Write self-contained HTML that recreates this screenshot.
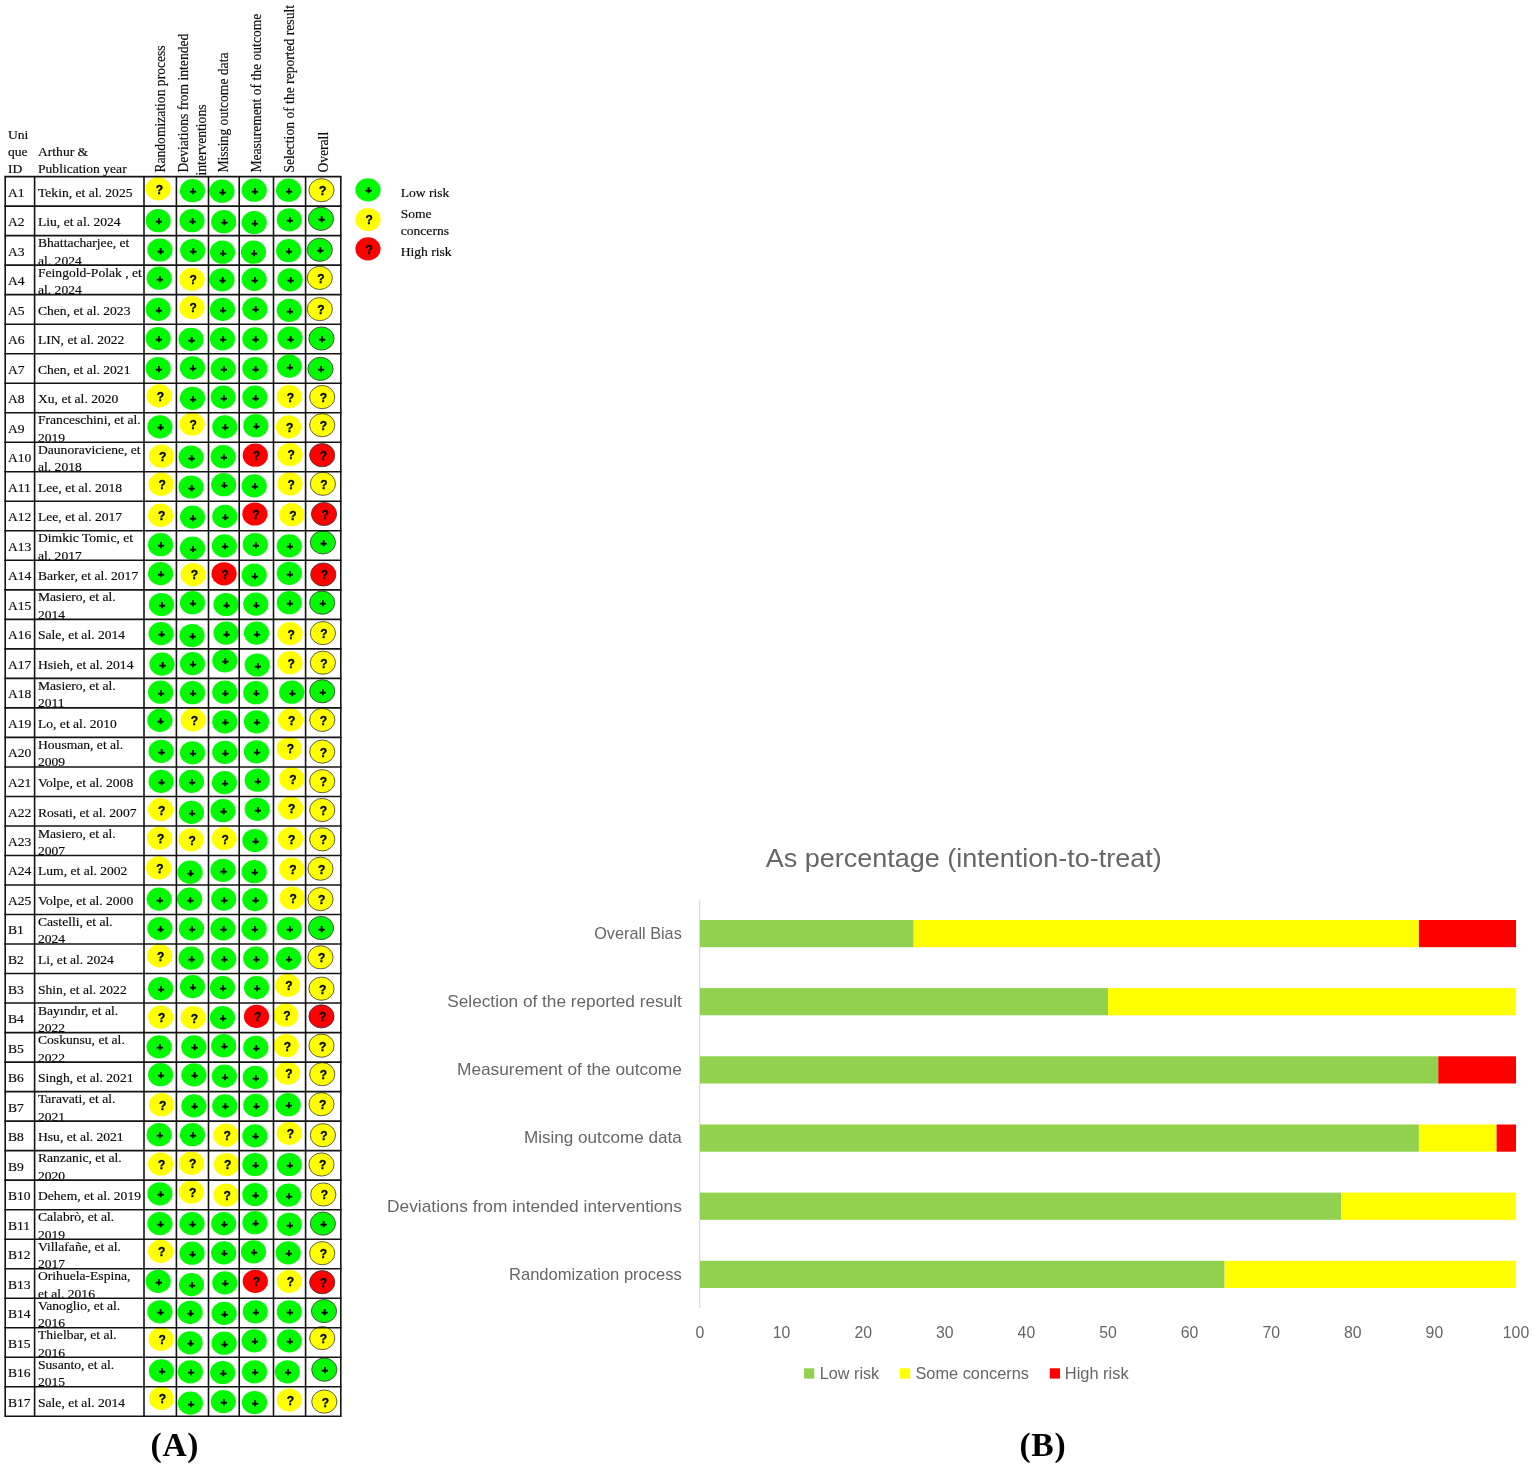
<!DOCTYPE html>
<html lang="en"><head><meta charset="utf-8"><title>Risk of bias</title>
<style>html,body{margin:0;padding:0;background:#fff}svg{display:block}</style></head>
<body>
<svg width="1535" height="1470" viewBox="0 0 1535 1470">
<rect width="1535" height="1470" fill="#fff"/>
<clipPath id="c40"><rect x="31.7" y="1357.3" width="98.6" height="29.1"/></clipPath>
<clipPath id="c39"><rect x="31.7" y="1327.8" width="98.6" height="29.1"/></clipPath>
<clipPath id="c38"><rect x="31.7" y="1298.2" width="98.6" height="29.1"/></clipPath>
<clipPath id="c37"><rect x="31.7" y="1268.7" width="98.6" height="29.1"/></clipPath>
<clipPath id="c36"><rect x="31.7" y="1239.2" width="98.6" height="29.1"/></clipPath>
<clipPath id="c35"><rect x="31.7" y="1209.7" width="98.6" height="29.1"/></clipPath>
<clipPath id="c33"><rect x="31.7" y="1150.7" width="98.6" height="29.1"/></clipPath>
<clipPath id="c31"><rect x="31.7" y="1091.6" width="98.6" height="29.1"/></clipPath>
<clipPath id="c29"><rect x="31.7" y="1032.6" width="98.6" height="29.1"/></clipPath>
<clipPath id="c28"><rect x="31.7" y="1003.1" width="98.6" height="29.1"/></clipPath>
<clipPath id="c25"><rect x="31.7" y="914.5" width="98.6" height="29.1"/></clipPath>
<clipPath id="c22"><rect x="31.7" y="826.0" width="98.6" height="29.1"/></clipPath>
<clipPath id="c19"><rect x="31.7" y="737.4" width="98.6" height="29.1"/></clipPath>
<clipPath id="c17"><rect x="31.7" y="678.4" width="98.6" height="29.1"/></clipPath>
<clipPath id="c14"><rect x="31.7" y="589.8" width="98.6" height="29.1"/></clipPath>
<clipPath id="c12"><rect x="31.7" y="530.8" width="98.6" height="29.1"/></clipPath>
<clipPath id="c9"><rect x="31.7" y="442.2" width="98.6" height="29.1"/></clipPath>
<clipPath id="c8"><rect x="31.7" y="412.7" width="98.6" height="29.1"/></clipPath>
<clipPath id="c3"><rect x="31.7" y="265.1" width="98.6" height="29.1"/></clipPath>
<clipPath id="c2"><rect x="31.7" y="235.6" width="98.6" height="29.1"/></clipPath>
<g font-family="Liberation Serif, serif" fill="#0a0a0a" stroke="#0a0a0a" stroke-width="0.16" font-size="12.3" transform="scale(1.1057,1)">
<text x="7.24" y="138.6">Uni</text><text x="7.24" y="155.8">que</text><text x="7.24" y="173.4">ID</text>
<text x="34.37" y="155.8">Arthur &amp;</text><text x="34.37" y="173.4">Publication year</text>
</g>
<g font-family="Liberation Serif, serif" fill="#0a0a0a" stroke="#0a0a0a" stroke-width="0.16" font-size="13.6">
<text transform="translate(164.8,172.6) rotate(-90)">Randomization process</text>
<text transform="translate(187.7,172.6) rotate(-90)">Deviations from intended</text>
<text transform="translate(205.7,175.5) rotate(-90)">interventions</text>
<text transform="translate(228.1,172.6) rotate(-90)">Missing outcome data</text>
<text transform="translate(261.4,172.6) rotate(-90)">Measurement of the outcome</text>
<text transform="translate(294.1,172.6) rotate(-90)">Selection of the reported result</text>
<text transform="translate(327.8,172.6) rotate(-90)">Overall</text>
</g>
<g font-family="Liberation Serif, serif" fill="#0a0a0a" stroke="#0a0a0a" stroke-width="0.16" font-size="12.3" transform="scale(1.1057,1)">
<text x="7.24" y="196.6">A1</text>
<text x="34.37" y="196.6">Tekin, et al. 2025</text>
<text x="7.24" y="226.1">A2</text>
<text x="34.37" y="226.1">Liu, et al. 2024</text>
<text x="7.24" y="255.6">A3</text>
<text x="34.37" y="247.3">Bhattacharjee, et</text>
<text x="34.37" y="264.6" clip-path="url(#c2)">al. 2024</text>
<text x="7.24" y="285.1">A4</text>
<text x="34.37" y="276.8">Feingold-Polak , et</text>
<text x="34.37" y="294.1" clip-path="url(#c3)">al. 2024</text>
<text x="7.24" y="314.7">A5</text>
<text x="34.37" y="314.7">Chen, et al. 2023</text>
<text x="7.24" y="344.2">A6</text>
<text x="34.37" y="344.2">LIN, et al. 2022</text>
<text x="7.24" y="373.7">A7</text>
<text x="34.37" y="373.7">Chen, et al. 2021</text>
<text x="7.24" y="403.2">A8</text>
<text x="34.37" y="403.2">Xu, et al. 2020</text>
<text x="7.24" y="432.7">A9</text>
<text x="34.37" y="424.4">Franceschini, et al.</text>
<text x="34.37" y="441.7" clip-path="url(#c8)">2019</text>
<text x="7.24" y="462.2">A10</text>
<text x="34.37" y="453.9">Daunoraviciene, et</text>
<text x="34.37" y="471.2" clip-path="url(#c9)">al. 2018</text>
<text x="7.24" y="491.8">A11</text>
<text x="34.37" y="491.8">Lee, et al. 2018</text>
<text x="7.24" y="521.3">A12</text>
<text x="34.37" y="521.3">Lee, et al. 2017</text>
<text x="7.24" y="550.8">A13</text>
<text x="34.37" y="542.5">Dimkic Tomic, et</text>
<text x="34.37" y="559.8" clip-path="url(#c12)">al. 2017</text>
<text x="7.24" y="580.3">A14</text>
<text x="34.37" y="580.3">Barker, et al. 2017</text>
<text x="7.24" y="609.8">A15</text>
<text x="34.37" y="601.5">Masiero, et al.</text>
<text x="34.37" y="618.8" clip-path="url(#c14)">2014</text>
<text x="7.24" y="639.4">A16</text>
<text x="34.37" y="639.4">Sale, et al. 2014</text>
<text x="7.24" y="668.9">A17</text>
<text x="34.37" y="668.9">Hsieh, et al. 2014</text>
<text x="7.24" y="698.4">A18</text>
<text x="34.37" y="690.1">Masiero, et al.</text>
<text x="34.37" y="707.4" clip-path="url(#c17)">2011</text>
<text x="7.24" y="727.9">A19</text>
<text x="34.37" y="727.9">Lo, et al. 2010</text>
<text x="7.24" y="757.4">A20</text>
<text x="34.37" y="749.1">Housman, et al.</text>
<text x="34.37" y="766.4" clip-path="url(#c19)">2009</text>
<text x="7.24" y="786.9">A21</text>
<text x="34.37" y="786.9">Volpe, et al. 2008</text>
<text x="7.24" y="816.5">A22</text>
<text x="34.37" y="816.5">Rosati, et al. 2007</text>
<text x="7.24" y="846.0">A23</text>
<text x="34.37" y="837.7">Masiero, et al.</text>
<text x="34.37" y="855.0" clip-path="url(#c22)">2007</text>
<text x="7.24" y="875.5">A24</text>
<text x="34.37" y="875.5">Lum, et al. 2002</text>
<text x="7.24" y="905.0">A25</text>
<text x="34.37" y="905.0">Volpe, et al. 2000</text>
<text x="7.24" y="934.5">B1</text>
<text x="34.37" y="926.2">Castelli, et al.</text>
<text x="34.37" y="943.5" clip-path="url(#c25)">2024</text>
<text x="7.24" y="964.0">B2</text>
<text x="34.37" y="964.0">Li, et al. 2024</text>
<text x="7.24" y="993.6">B3</text>
<text x="34.37" y="993.6">Shin, et al. 2022</text>
<text x="7.24" y="1023.1">B4</text>
<text x="34.37" y="1014.8">Bayındır, et al.</text>
<text x="34.37" y="1032.1" clip-path="url(#c28)">2022</text>
<text x="7.24" y="1052.6">B5</text>
<text x="34.37" y="1044.3">Coskunsu, et al.</text>
<text x="34.37" y="1061.6" clip-path="url(#c29)">2022</text>
<text x="7.24" y="1082.1">B6</text>
<text x="34.37" y="1082.1">Singh, et al. 2021</text>
<text x="7.24" y="1111.6">B7</text>
<text x="34.37" y="1103.3">Taravati, et al.</text>
<text x="34.37" y="1120.6" clip-path="url(#c31)">2021</text>
<text x="7.24" y="1141.1">B8</text>
<text x="34.37" y="1141.1">Hsu, et al. 2021</text>
<text x="7.24" y="1170.7">B9</text>
<text x="34.37" y="1162.4">Ranzanic, et al.</text>
<text x="34.37" y="1179.7" clip-path="url(#c33)">2020</text>
<text x="7.24" y="1200.2">B10</text>
<text x="34.37" y="1200.2">Dehem, et al. 2019</text>
<text x="7.24" y="1229.7">B11</text>
<text x="34.37" y="1221.4">Calabrò, et al.</text>
<text x="34.37" y="1238.7" clip-path="url(#c35)">2019</text>
<text x="7.24" y="1259.2">B12</text>
<text x="34.37" y="1250.9">Villafañe, et al.</text>
<text x="34.37" y="1268.2" clip-path="url(#c36)">2017</text>
<text x="7.24" y="1288.7">B13</text>
<text x="34.37" y="1280.4">Orihuela-Espina,</text>
<text x="34.37" y="1297.7" clip-path="url(#c37)">et al. 2016</text>
<text x="7.24" y="1318.2">B14</text>
<text x="34.37" y="1309.9">Vanoglio, et al.</text>
<text x="34.37" y="1327.2" clip-path="url(#c38)">2016</text>
<text x="7.24" y="1347.8">B15</text>
<text x="34.37" y="1339.5">Thielbar, et al.</text>
<text x="34.37" y="1356.8" clip-path="url(#c39)">2016</text>
<text x="7.24" y="1377.3">B16</text>
<text x="34.37" y="1369.0">Susanto, et al.</text>
<text x="34.37" y="1386.3" clip-path="url(#c40)">2015</text>
<text x="7.24" y="1406.8">B17</text>
<text x="34.37" y="1406.8">Sale, et al. 2014</text>
</g>
<ellipse cx="158.2" cy="188.8" rx="12.6" ry="11.6" fill="#ffff00"/>
<text x="159.3" y="193.7" text-anchor="middle" font-family="Liberation Sans, sans-serif" font-weight="bold" font-size="12" fill="#000" stroke="#000" stroke-width="0.3">?</text>
<ellipse cx="192.5" cy="190.7" rx="12.6" ry="11.6" fill="#03fa03"/>
<text x="193.1" y="195.2" text-anchor="middle" font-family="Liberation Sans, sans-serif" font-weight="bold" font-size="11.5" fill="#000" stroke="#000" stroke-width="0.45">+</text>
<ellipse cx="222.0" cy="191.2" rx="12.6" ry="11.6" fill="#03fa03"/>
<text x="222.6" y="195.7" text-anchor="middle" font-family="Liberation Sans, sans-serif" font-weight="bold" font-size="11.5" fill="#000" stroke="#000" stroke-width="0.45">+</text>
<ellipse cx="254.2" cy="190.2" rx="12.6" ry="11.6" fill="#03fa03"/>
<text x="254.8" y="194.7" text-anchor="middle" font-family="Liberation Sans, sans-serif" font-weight="bold" font-size="11.5" fill="#000" stroke="#000" stroke-width="0.45">+</text>
<ellipse cx="288.6" cy="190.2" rx="12.6" ry="11.6" fill="#03fa03"/>
<text x="289.2" y="194.7" text-anchor="middle" font-family="Liberation Sans, sans-serif" font-weight="bold" font-size="11.5" fill="#000" stroke="#000" stroke-width="0.45">+</text>
<ellipse cx="321.5" cy="190.2" rx="12.6" ry="11.6" fill="#ffff00" stroke="#3a3a3a" stroke-width="0.8"/>
<text x="322.6" y="195.1" text-anchor="middle" font-family="Liberation Sans, sans-serif" font-weight="bold" font-size="12" fill="#000" stroke="#000" stroke-width="0.3">?</text>
<ellipse cx="158.2" cy="220.7" rx="12.6" ry="11.6" fill="#03fa03"/>
<text x="158.8" y="225.2" text-anchor="middle" font-family="Liberation Sans, sans-serif" font-weight="bold" font-size="11.5" fill="#000" stroke="#000" stroke-width="0.45">+</text>
<ellipse cx="192.0" cy="220.7" rx="12.6" ry="11.6" fill="#03fa03"/>
<text x="192.6" y="225.2" text-anchor="middle" font-family="Liberation Sans, sans-serif" font-weight="bold" font-size="11.5" fill="#000" stroke="#000" stroke-width="0.45">+</text>
<ellipse cx="223.7" cy="221.7" rx="12.6" ry="11.6" fill="#03fa03"/>
<text x="224.3" y="226.2" text-anchor="middle" font-family="Liberation Sans, sans-serif" font-weight="bold" font-size="11.5" fill="#000" stroke="#000" stroke-width="0.45">+</text>
<ellipse cx="254.2" cy="222.6" rx="12.6" ry="11.6" fill="#03fa03"/>
<text x="254.8" y="227.1" text-anchor="middle" font-family="Liberation Sans, sans-serif" font-weight="bold" font-size="11.5" fill="#000" stroke="#000" stroke-width="0.45">+</text>
<ellipse cx="289.3" cy="219.8" rx="12.6" ry="11.6" fill="#03fa03"/>
<text x="289.9" y="224.3" text-anchor="middle" font-family="Liberation Sans, sans-serif" font-weight="bold" font-size="11.5" fill="#000" stroke="#000" stroke-width="0.45">+</text>
<ellipse cx="321.0" cy="218.8" rx="12.6" ry="11.6" fill="#03fa03" stroke="#3a3a3a" stroke-width="0.8"/>
<text x="321.6" y="223.3" text-anchor="middle" font-family="Liberation Sans, sans-serif" font-weight="bold" font-size="11.5" fill="#000" stroke="#000" stroke-width="0.45">+</text>
<ellipse cx="159.9" cy="250.0" rx="12.6" ry="11.6" fill="#03fa03"/>
<text x="160.5" y="254.5" text-anchor="middle" font-family="Liberation Sans, sans-serif" font-weight="bold" font-size="11.5" fill="#000" stroke="#000" stroke-width="0.45">+</text>
<ellipse cx="192.7" cy="250.5" rx="12.6" ry="11.6" fill="#03fa03"/>
<text x="193.3" y="255.0" text-anchor="middle" font-family="Liberation Sans, sans-serif" font-weight="bold" font-size="11.5" fill="#000" stroke="#000" stroke-width="0.45">+</text>
<ellipse cx="222.5" cy="252.2" rx="12.6" ry="11.6" fill="#03fa03"/>
<text x="223.1" y="256.7" text-anchor="middle" font-family="Liberation Sans, sans-serif" font-weight="bold" font-size="11.5" fill="#000" stroke="#000" stroke-width="0.45">+</text>
<ellipse cx="253.5" cy="252.2" rx="12.6" ry="11.6" fill="#03fa03"/>
<text x="254.1" y="256.7" text-anchor="middle" font-family="Liberation Sans, sans-serif" font-weight="bold" font-size="11.5" fill="#000" stroke="#000" stroke-width="0.45">+</text>
<ellipse cx="288.6" cy="250.7" rx="12.6" ry="11.6" fill="#03fa03"/>
<text x="289.2" y="255.2" text-anchor="middle" font-family="Liberation Sans, sans-serif" font-weight="bold" font-size="11.5" fill="#000" stroke="#000" stroke-width="0.45">+</text>
<ellipse cx="319.8" cy="249.8" rx="12.6" ry="11.6" fill="#03fa03" stroke="#3a3a3a" stroke-width="0.8"/>
<text x="320.4" y="254.3" text-anchor="middle" font-family="Liberation Sans, sans-serif" font-weight="bold" font-size="11.5" fill="#000" stroke="#000" stroke-width="0.45">+</text>
<ellipse cx="159.2" cy="278.2" rx="12.6" ry="11.6" fill="#03fa03"/>
<text x="159.8" y="282.7" text-anchor="middle" font-family="Liberation Sans, sans-serif" font-weight="bold" font-size="11.5" fill="#000" stroke="#000" stroke-width="0.45">+</text>
<ellipse cx="192.0" cy="279.4" rx="12.6" ry="11.6" fill="#ffff00"/>
<text x="193.1" y="284.3" text-anchor="middle" font-family="Liberation Sans, sans-serif" font-weight="bold" font-size="12" fill="#000" stroke="#000" stroke-width="0.3">?</text>
<ellipse cx="222.0" cy="279.8" rx="12.6" ry="11.6" fill="#03fa03"/>
<text x="222.6" y="284.3" text-anchor="middle" font-family="Liberation Sans, sans-serif" font-weight="bold" font-size="11.5" fill="#000" stroke="#000" stroke-width="0.45">+</text>
<ellipse cx="254.2" cy="279.4" rx="12.6" ry="11.6" fill="#03fa03"/>
<text x="254.8" y="283.9" text-anchor="middle" font-family="Liberation Sans, sans-serif" font-weight="bold" font-size="11.5" fill="#000" stroke="#000" stroke-width="0.45">+</text>
<ellipse cx="290.0" cy="279.8" rx="12.6" ry="11.6" fill="#03fa03"/>
<text x="290.6" y="284.3" text-anchor="middle" font-family="Liberation Sans, sans-serif" font-weight="bold" font-size="11.5" fill="#000" stroke="#000" stroke-width="0.45">+</text>
<ellipse cx="319.8" cy="277.9" rx="12.6" ry="11.6" fill="#ffff00" stroke="#3a3a3a" stroke-width="0.8"/>
<text x="320.9" y="282.8" text-anchor="middle" font-family="Liberation Sans, sans-serif" font-weight="bold" font-size="12" fill="#000" stroke="#000" stroke-width="0.3">?</text>
<ellipse cx="158.2" cy="309.4" rx="12.6" ry="11.6" fill="#03fa03"/>
<text x="158.8" y="313.9" text-anchor="middle" font-family="Liberation Sans, sans-serif" font-weight="bold" font-size="11.5" fill="#000" stroke="#000" stroke-width="0.45">+</text>
<ellipse cx="192.0" cy="307.5" rx="12.6" ry="11.6" fill="#ffff00"/>
<text x="193.1" y="312.4" text-anchor="middle" font-family="Liberation Sans, sans-serif" font-weight="bold" font-size="12" fill="#000" stroke="#000" stroke-width="0.3">?</text>
<ellipse cx="222.5" cy="309.4" rx="12.6" ry="11.6" fill="#03fa03"/>
<text x="223.1" y="313.9" text-anchor="middle" font-family="Liberation Sans, sans-serif" font-weight="bold" font-size="11.5" fill="#000" stroke="#000" stroke-width="0.45">+</text>
<ellipse cx="254.9" cy="308.9" rx="12.6" ry="11.6" fill="#03fa03"/>
<text x="255.5" y="313.4" text-anchor="middle" font-family="Liberation Sans, sans-serif" font-weight="bold" font-size="11.5" fill="#000" stroke="#000" stroke-width="0.45">+</text>
<ellipse cx="289.3" cy="310.3" rx="12.6" ry="11.6" fill="#03fa03"/>
<text x="289.9" y="314.8" text-anchor="middle" font-family="Liberation Sans, sans-serif" font-weight="bold" font-size="11.5" fill="#000" stroke="#000" stroke-width="0.45">+</text>
<ellipse cx="319.8" cy="309.1" rx="12.6" ry="11.6" fill="#ffff00" stroke="#3a3a3a" stroke-width="0.8"/>
<text x="320.9" y="314.0" text-anchor="middle" font-family="Liberation Sans, sans-serif" font-weight="bold" font-size="12" fill="#000" stroke="#000" stroke-width="0.3">?</text>
<ellipse cx="158.2" cy="338.5" rx="12.6" ry="11.6" fill="#03fa03"/>
<text x="158.8" y="343.0" text-anchor="middle" font-family="Liberation Sans, sans-serif" font-weight="bold" font-size="11.5" fill="#000" stroke="#000" stroke-width="0.45">+</text>
<ellipse cx="191.1" cy="339.4" rx="12.6" ry="11.6" fill="#03fa03"/>
<text x="191.7" y="343.9" text-anchor="middle" font-family="Liberation Sans, sans-serif" font-weight="bold" font-size="11.5" fill="#000" stroke="#000" stroke-width="0.45">+</text>
<ellipse cx="222.5" cy="338.9" rx="12.6" ry="11.6" fill="#03fa03"/>
<text x="223.1" y="343.4" text-anchor="middle" font-family="Liberation Sans, sans-serif" font-weight="bold" font-size="11.5" fill="#000" stroke="#000" stroke-width="0.45">+</text>
<ellipse cx="254.9" cy="338.9" rx="12.6" ry="11.6" fill="#03fa03"/>
<text x="255.5" y="343.4" text-anchor="middle" font-family="Liberation Sans, sans-serif" font-weight="bold" font-size="11.5" fill="#000" stroke="#000" stroke-width="0.45">+</text>
<ellipse cx="290.0" cy="338.0" rx="12.6" ry="11.6" fill="#03fa03"/>
<text x="290.6" y="342.5" text-anchor="middle" font-family="Liberation Sans, sans-serif" font-weight="bold" font-size="11.5" fill="#000" stroke="#000" stroke-width="0.45">+</text>
<ellipse cx="321.5" cy="338.5" rx="12.6" ry="11.6" fill="#03fa03" stroke="#3a3a3a" stroke-width="0.8"/>
<text x="322.1" y="343.0" text-anchor="middle" font-family="Liberation Sans, sans-serif" font-weight="bold" font-size="11.5" fill="#000" stroke="#000" stroke-width="0.45">+</text>
<ellipse cx="158.2" cy="368.5" rx="12.6" ry="11.6" fill="#03fa03"/>
<text x="158.8" y="373.0" text-anchor="middle" font-family="Liberation Sans, sans-serif" font-weight="bold" font-size="11.5" fill="#000" stroke="#000" stroke-width="0.45">+</text>
<ellipse cx="192.5" cy="367.8" rx="12.6" ry="11.6" fill="#03fa03"/>
<text x="193.1" y="372.3" text-anchor="middle" font-family="Liberation Sans, sans-serif" font-weight="bold" font-size="11.5" fill="#000" stroke="#000" stroke-width="0.45">+</text>
<ellipse cx="223.2" cy="368.9" rx="12.6" ry="11.6" fill="#03fa03"/>
<text x="223.8" y="373.4" text-anchor="middle" font-family="Liberation Sans, sans-serif" font-weight="bold" font-size="11.5" fill="#000" stroke="#000" stroke-width="0.45">+</text>
<ellipse cx="254.9" cy="368.5" rx="12.6" ry="11.6" fill="#03fa03"/>
<text x="255.5" y="373.0" text-anchor="middle" font-family="Liberation Sans, sans-serif" font-weight="bold" font-size="11.5" fill="#000" stroke="#000" stroke-width="0.45">+</text>
<ellipse cx="289.3" cy="366.1" rx="12.6" ry="11.6" fill="#03fa03"/>
<text x="289.9" y="370.6" text-anchor="middle" font-family="Liberation Sans, sans-serif" font-weight="bold" font-size="11.5" fill="#000" stroke="#000" stroke-width="0.45">+</text>
<ellipse cx="320.5" cy="368.9" rx="12.6" ry="11.6" fill="#03fa03" stroke="#3a3a3a" stroke-width="0.8"/>
<text x="321.1" y="373.4" text-anchor="middle" font-family="Liberation Sans, sans-serif" font-weight="bold" font-size="11.5" fill="#000" stroke="#000" stroke-width="0.45">+</text>
<ellipse cx="159.2" cy="395.9" rx="12.6" ry="11.6" fill="#ffff00"/>
<text x="160.3" y="400.8" text-anchor="middle" font-family="Liberation Sans, sans-serif" font-weight="bold" font-size="12" fill="#000" stroke="#000" stroke-width="0.3">?</text>
<ellipse cx="192.5" cy="398.3" rx="12.6" ry="11.6" fill="#03fa03"/>
<text x="193.1" y="402.8" text-anchor="middle" font-family="Liberation Sans, sans-serif" font-weight="bold" font-size="11.5" fill="#000" stroke="#000" stroke-width="0.45">+</text>
<ellipse cx="223.2" cy="397.1" rx="12.6" ry="11.6" fill="#03fa03"/>
<text x="223.8" y="401.6" text-anchor="middle" font-family="Liberation Sans, sans-serif" font-weight="bold" font-size="11.5" fill="#000" stroke="#000" stroke-width="0.45">+</text>
<ellipse cx="254.9" cy="397.1" rx="12.6" ry="11.6" fill="#03fa03"/>
<text x="255.5" y="401.6" text-anchor="middle" font-family="Liberation Sans, sans-serif" font-weight="bold" font-size="11.5" fill="#000" stroke="#000" stroke-width="0.45">+</text>
<ellipse cx="289.3" cy="396.6" rx="12.6" ry="11.6" fill="#ffff00"/>
<text x="290.4" y="401.5" text-anchor="middle" font-family="Liberation Sans, sans-serif" font-weight="bold" font-size="12" fill="#000" stroke="#000" stroke-width="0.3">?</text>
<ellipse cx="322.2" cy="397.1" rx="12.6" ry="11.6" fill="#ffff00" stroke="#3a3a3a" stroke-width="0.8"/>
<text x="323.3" y="402.0" text-anchor="middle" font-family="Liberation Sans, sans-serif" font-weight="bold" font-size="12" fill="#000" stroke="#000" stroke-width="0.3">?</text>
<ellipse cx="159.9" cy="426.9" rx="12.6" ry="11.6" fill="#03fa03"/>
<text x="160.5" y="431.4" text-anchor="middle" font-family="Liberation Sans, sans-serif" font-weight="bold" font-size="11.5" fill="#000" stroke="#000" stroke-width="0.45">+</text>
<ellipse cx="192.0" cy="424.1" rx="12.6" ry="11.6" fill="#ffff00"/>
<text x="193.1" y="429.0" text-anchor="middle" font-family="Liberation Sans, sans-serif" font-weight="bold" font-size="12" fill="#000" stroke="#000" stroke-width="0.3">?</text>
<ellipse cx="224.8" cy="426.9" rx="12.6" ry="11.6" fill="#03fa03"/>
<text x="225.4" y="431.4" text-anchor="middle" font-family="Liberation Sans, sans-serif" font-weight="bold" font-size="11.5" fill="#000" stroke="#000" stroke-width="0.45">+</text>
<ellipse cx="255.8" cy="425.7" rx="12.6" ry="11.6" fill="#03fa03"/>
<text x="256.4" y="430.2" text-anchor="middle" font-family="Liberation Sans, sans-serif" font-weight="bold" font-size="11.5" fill="#000" stroke="#000" stroke-width="0.45">+</text>
<ellipse cx="288.6" cy="426.9" rx="12.6" ry="11.6" fill="#ffff00"/>
<text x="289.7" y="431.8" text-anchor="middle" font-family="Liberation Sans, sans-serif" font-weight="bold" font-size="12" fill="#000" stroke="#000" stroke-width="0.3">?</text>
<ellipse cx="322.2" cy="425.2" rx="12.6" ry="11.6" fill="#ffff00" stroke="#3a3a3a" stroke-width="0.8"/>
<text x="323.3" y="430.1" text-anchor="middle" font-family="Liberation Sans, sans-serif" font-weight="bold" font-size="12" fill="#000" stroke="#000" stroke-width="0.3">?</text>
<ellipse cx="161.5" cy="456.2" rx="12.6" ry="11.6" fill="#ffff00"/>
<text x="162.6" y="461.1" text-anchor="middle" font-family="Liberation Sans, sans-serif" font-weight="bold" font-size="12" fill="#000" stroke="#000" stroke-width="0.3">?</text>
<ellipse cx="191.1" cy="457.1" rx="12.6" ry="11.6" fill="#03fa03"/>
<text x="191.7" y="461.6" text-anchor="middle" font-family="Liberation Sans, sans-serif" font-weight="bold" font-size="11.5" fill="#000" stroke="#000" stroke-width="0.45">+</text>
<ellipse cx="223.2" cy="456.7" rx="12.6" ry="11.6" fill="#03fa03"/>
<text x="223.8" y="461.2" text-anchor="middle" font-family="Liberation Sans, sans-serif" font-weight="bold" font-size="11.5" fill="#000" stroke="#000" stroke-width="0.45">+</text>
<ellipse cx="255.3" cy="455.2" rx="12.6" ry="11.6" fill="#ff0000"/>
<text x="256.4" y="460.1" text-anchor="middle" font-family="Liberation Sans, sans-serif" font-weight="bold" font-size="12" fill="#000" stroke="#000" stroke-width="0.3">?</text>
<ellipse cx="290.0" cy="454.5" rx="12.6" ry="11.6" fill="#ffff00"/>
<text x="291.1" y="459.4" text-anchor="middle" font-family="Liberation Sans, sans-serif" font-weight="bold" font-size="12" fill="#000" stroke="#000" stroke-width="0.3">?</text>
<ellipse cx="322.2" cy="455.2" rx="12.6" ry="11.6" fill="#ff0000" stroke="#3a3a3a" stroke-width="0.8"/>
<text x="323.3" y="460.1" text-anchor="middle" font-family="Liberation Sans, sans-serif" font-weight="bold" font-size="12" fill="#000" stroke="#000" stroke-width="0.3">?</text>
<ellipse cx="161.1" cy="484.2" rx="12.6" ry="11.6" fill="#ffff00"/>
<text x="162.2" y="489.1" text-anchor="middle" font-family="Liberation Sans, sans-serif" font-weight="bold" font-size="12" fill="#000" stroke="#000" stroke-width="0.3">?</text>
<ellipse cx="191.1" cy="487.0" rx="12.6" ry="11.6" fill="#03fa03"/>
<text x="191.7" y="491.5" text-anchor="middle" font-family="Liberation Sans, sans-serif" font-weight="bold" font-size="11.5" fill="#000" stroke="#000" stroke-width="0.45">+</text>
<ellipse cx="223.7" cy="484.7" rx="12.6" ry="11.6" fill="#03fa03"/>
<text x="224.3" y="489.2" text-anchor="middle" font-family="Liberation Sans, sans-serif" font-weight="bold" font-size="11.5" fill="#000" stroke="#000" stroke-width="0.45">+</text>
<ellipse cx="254.2" cy="485.9" rx="12.6" ry="11.6" fill="#03fa03"/>
<text x="254.8" y="490.4" text-anchor="middle" font-family="Liberation Sans, sans-serif" font-weight="bold" font-size="11.5" fill="#000" stroke="#000" stroke-width="0.45">+</text>
<ellipse cx="290.0" cy="483.8" rx="12.6" ry="11.6" fill="#ffff00"/>
<text x="291.1" y="488.7" text-anchor="middle" font-family="Liberation Sans, sans-serif" font-weight="bold" font-size="12" fill="#000" stroke="#000" stroke-width="0.3">?</text>
<ellipse cx="322.9" cy="483.8" rx="12.6" ry="11.6" fill="#ffff00" stroke="#3a3a3a" stroke-width="0.8"/>
<text x="324.0" y="488.7" text-anchor="middle" font-family="Liberation Sans, sans-serif" font-weight="bold" font-size="12" fill="#000" stroke="#000" stroke-width="0.3">?</text>
<ellipse cx="160.6" cy="515.2" rx="12.6" ry="11.6" fill="#ffff00"/>
<text x="161.7" y="520.1" text-anchor="middle" font-family="Liberation Sans, sans-serif" font-weight="bold" font-size="12" fill="#000" stroke="#000" stroke-width="0.3">?</text>
<ellipse cx="192.5" cy="517.1" rx="12.6" ry="11.6" fill="#03fa03"/>
<text x="193.1" y="521.6" text-anchor="middle" font-family="Liberation Sans, sans-serif" font-weight="bold" font-size="11.5" fill="#000" stroke="#000" stroke-width="0.45">+</text>
<ellipse cx="224.8" cy="516.4" rx="12.6" ry="11.6" fill="#03fa03"/>
<text x="225.4" y="520.9" text-anchor="middle" font-family="Liberation Sans, sans-serif" font-weight="bold" font-size="11.5" fill="#000" stroke="#000" stroke-width="0.45">+</text>
<ellipse cx="254.9" cy="514.0" rx="12.6" ry="11.6" fill="#ff0000"/>
<text x="256.0" y="518.9" text-anchor="middle" font-family="Liberation Sans, sans-serif" font-weight="bold" font-size="12" fill="#000" stroke="#000" stroke-width="0.3">?</text>
<ellipse cx="291.7" cy="514.7" rx="12.6" ry="11.6" fill="#ffff00"/>
<text x="292.8" y="519.6" text-anchor="middle" font-family="Liberation Sans, sans-serif" font-weight="bold" font-size="12" fill="#000" stroke="#000" stroke-width="0.3">?</text>
<ellipse cx="324.0" cy="514.0" rx="12.6" ry="11.6" fill="#ff0000" stroke="#3a3a3a" stroke-width="0.8"/>
<text x="325.1" y="518.9" text-anchor="middle" font-family="Liberation Sans, sans-serif" font-weight="bold" font-size="12" fill="#000" stroke="#000" stroke-width="0.3">?</text>
<ellipse cx="160.6" cy="544.7" rx="12.6" ry="11.6" fill="#03fa03"/>
<text x="161.2" y="549.2" text-anchor="middle" font-family="Liberation Sans, sans-serif" font-weight="bold" font-size="11.5" fill="#000" stroke="#000" stroke-width="0.45">+</text>
<ellipse cx="192.5" cy="548.2" rx="12.6" ry="11.6" fill="#03fa03"/>
<text x="193.1" y="552.7" text-anchor="middle" font-family="Liberation Sans, sans-serif" font-weight="bold" font-size="11.5" fill="#000" stroke="#000" stroke-width="0.45">+</text>
<ellipse cx="224.4" cy="545.9" rx="12.6" ry="11.6" fill="#03fa03"/>
<text x="225.0" y="550.4" text-anchor="middle" font-family="Liberation Sans, sans-serif" font-weight="bold" font-size="11.5" fill="#000" stroke="#000" stroke-width="0.45">+</text>
<ellipse cx="255.3" cy="544.5" rx="12.6" ry="11.6" fill="#03fa03"/>
<text x="255.9" y="549.0" text-anchor="middle" font-family="Liberation Sans, sans-serif" font-weight="bold" font-size="11.5" fill="#000" stroke="#000" stroke-width="0.45">+</text>
<ellipse cx="289.3" cy="545.9" rx="12.6" ry="11.6" fill="#03fa03"/>
<text x="289.9" y="550.4" text-anchor="middle" font-family="Liberation Sans, sans-serif" font-weight="bold" font-size="11.5" fill="#000" stroke="#000" stroke-width="0.45">+</text>
<ellipse cx="322.9" cy="542.4" rx="12.6" ry="11.6" fill="#03fa03" stroke="#3a3a3a" stroke-width="0.8"/>
<text x="323.5" y="546.9" text-anchor="middle" font-family="Liberation Sans, sans-serif" font-weight="bold" font-size="11.5" fill="#000" stroke="#000" stroke-width="0.45">+</text>
<ellipse cx="160.6" cy="573.6" rx="12.6" ry="11.6" fill="#03fa03"/>
<text x="161.2" y="578.1" text-anchor="middle" font-family="Liberation Sans, sans-serif" font-weight="bold" font-size="11.5" fill="#000" stroke="#000" stroke-width="0.45">+</text>
<ellipse cx="193.2" cy="574.5" rx="12.6" ry="11.6" fill="#ffff00"/>
<text x="194.3" y="579.4" text-anchor="middle" font-family="Liberation Sans, sans-serif" font-weight="bold" font-size="12" fill="#000" stroke="#000" stroke-width="0.3">?</text>
<ellipse cx="224.1" cy="573.8" rx="12.6" ry="11.6" fill="#ff0000"/>
<text x="225.2" y="578.7" text-anchor="middle" font-family="Liberation Sans, sans-serif" font-weight="bold" font-size="12" fill="#000" stroke="#000" stroke-width="0.3">?</text>
<ellipse cx="254.2" cy="575.0" rx="12.6" ry="11.6" fill="#03fa03"/>
<text x="254.8" y="579.5" text-anchor="middle" font-family="Liberation Sans, sans-serif" font-weight="bold" font-size="11.5" fill="#000" stroke="#000" stroke-width="0.45">+</text>
<ellipse cx="289.3" cy="573.3" rx="12.6" ry="11.6" fill="#03fa03"/>
<text x="289.9" y="577.8" text-anchor="middle" font-family="Liberation Sans, sans-serif" font-weight="bold" font-size="11.5" fill="#000" stroke="#000" stroke-width="0.45">+</text>
<ellipse cx="323.3" cy="574.5" rx="12.6" ry="11.6" fill="#ff0000" stroke="#3a3a3a" stroke-width="0.8"/>
<text x="324.4" y="579.4" text-anchor="middle" font-family="Liberation Sans, sans-serif" font-weight="bold" font-size="12" fill="#000" stroke="#000" stroke-width="0.3">?</text>
<ellipse cx="161.5" cy="604.5" rx="12.6" ry="11.6" fill="#03fa03"/>
<text x="162.1" y="609.0" text-anchor="middle" font-family="Liberation Sans, sans-serif" font-weight="bold" font-size="11.5" fill="#000" stroke="#000" stroke-width="0.45">+</text>
<ellipse cx="192.5" cy="602.7" rx="12.6" ry="11.6" fill="#03fa03"/>
<text x="193.1" y="607.2" text-anchor="middle" font-family="Liberation Sans, sans-serif" font-weight="bold" font-size="11.5" fill="#000" stroke="#000" stroke-width="0.45">+</text>
<ellipse cx="226.0" cy="604.5" rx="12.6" ry="11.6" fill="#03fa03"/>
<text x="226.6" y="609.0" text-anchor="middle" font-family="Liberation Sans, sans-serif" font-weight="bold" font-size="11.5" fill="#000" stroke="#000" stroke-width="0.45">+</text>
<ellipse cx="255.8" cy="604.1" rx="12.6" ry="11.6" fill="#03fa03"/>
<text x="256.4" y="608.6" text-anchor="middle" font-family="Liberation Sans, sans-serif" font-weight="bold" font-size="11.5" fill="#000" stroke="#000" stroke-width="0.45">+</text>
<ellipse cx="289.3" cy="602.7" rx="12.6" ry="11.6" fill="#03fa03"/>
<text x="289.9" y="607.2" text-anchor="middle" font-family="Liberation Sans, sans-serif" font-weight="bold" font-size="11.5" fill="#000" stroke="#000" stroke-width="0.45">+</text>
<ellipse cx="322.2" cy="602.7" rx="12.6" ry="11.6" fill="#03fa03" stroke="#3a3a3a" stroke-width="0.8"/>
<text x="322.8" y="607.2" text-anchor="middle" font-family="Liberation Sans, sans-serif" font-weight="bold" font-size="11.5" fill="#000" stroke="#000" stroke-width="0.45">+</text>
<ellipse cx="161.1" cy="633.6" rx="12.6" ry="11.6" fill="#03fa03"/>
<text x="161.7" y="638.1" text-anchor="middle" font-family="Liberation Sans, sans-serif" font-weight="bold" font-size="11.5" fill="#000" stroke="#000" stroke-width="0.45">+</text>
<ellipse cx="192.0" cy="635.5" rx="12.6" ry="11.6" fill="#03fa03"/>
<text x="192.6" y="640.0" text-anchor="middle" font-family="Liberation Sans, sans-serif" font-weight="bold" font-size="11.5" fill="#000" stroke="#000" stroke-width="0.45">+</text>
<ellipse cx="226.0" cy="633.1" rx="12.6" ry="11.6" fill="#03fa03"/>
<text x="226.6" y="637.6" text-anchor="middle" font-family="Liberation Sans, sans-serif" font-weight="bold" font-size="11.5" fill="#000" stroke="#000" stroke-width="0.45">+</text>
<ellipse cx="256.5" cy="633.1" rx="12.6" ry="11.6" fill="#03fa03"/>
<text x="257.1" y="637.6" text-anchor="middle" font-family="Liberation Sans, sans-serif" font-weight="bold" font-size="11.5" fill="#000" stroke="#000" stroke-width="0.45">+</text>
<ellipse cx="290.0" cy="633.6" rx="12.6" ry="11.6" fill="#ffff00"/>
<text x="291.1" y="638.5" text-anchor="middle" font-family="Liberation Sans, sans-serif" font-weight="bold" font-size="12" fill="#000" stroke="#000" stroke-width="0.3">?</text>
<ellipse cx="322.9" cy="633.1" rx="12.6" ry="11.6" fill="#ffff00" stroke="#3a3a3a" stroke-width="0.8"/>
<text x="324.0" y="638.0" text-anchor="middle" font-family="Liberation Sans, sans-serif" font-weight="bold" font-size="12" fill="#000" stroke="#000" stroke-width="0.3">?</text>
<ellipse cx="162.0" cy="664.1" rx="12.6" ry="11.6" fill="#03fa03"/>
<text x="162.6" y="668.6" text-anchor="middle" font-family="Liberation Sans, sans-serif" font-weight="bold" font-size="11.5" fill="#000" stroke="#000" stroke-width="0.45">+</text>
<ellipse cx="192.5" cy="663.6" rx="12.6" ry="11.6" fill="#03fa03"/>
<text x="193.1" y="668.1" text-anchor="middle" font-family="Liberation Sans, sans-serif" font-weight="bold" font-size="11.5" fill="#000" stroke="#000" stroke-width="0.45">+</text>
<ellipse cx="224.8" cy="660.8" rx="12.6" ry="11.6" fill="#03fa03"/>
<text x="225.4" y="665.3" text-anchor="middle" font-family="Liberation Sans, sans-serif" font-weight="bold" font-size="11.5" fill="#000" stroke="#000" stroke-width="0.45">+</text>
<ellipse cx="257.2" cy="665.0" rx="12.6" ry="11.6" fill="#03fa03"/>
<text x="257.8" y="669.5" text-anchor="middle" font-family="Liberation Sans, sans-serif" font-weight="bold" font-size="11.5" fill="#000" stroke="#000" stroke-width="0.45">+</text>
<ellipse cx="290.0" cy="662.7" rx="12.6" ry="11.6" fill="#ffff00"/>
<text x="291.1" y="667.6" text-anchor="middle" font-family="Liberation Sans, sans-serif" font-weight="bold" font-size="12" fill="#000" stroke="#000" stroke-width="0.3">?</text>
<ellipse cx="322.9" cy="662.7" rx="12.6" ry="11.6" fill="#ffff00" stroke="#3a3a3a" stroke-width="0.8"/>
<text x="324.0" y="667.6" text-anchor="middle" font-family="Liberation Sans, sans-serif" font-weight="bold" font-size="12" fill="#000" stroke="#000" stroke-width="0.3">?</text>
<ellipse cx="160.6" cy="692.2" rx="12.6" ry="11.6" fill="#03fa03"/>
<text x="161.2" y="696.7" text-anchor="middle" font-family="Liberation Sans, sans-serif" font-weight="bold" font-size="11.5" fill="#000" stroke="#000" stroke-width="0.45">+</text>
<ellipse cx="192.5" cy="692.7" rx="12.6" ry="11.6" fill="#03fa03"/>
<text x="193.1" y="697.2" text-anchor="middle" font-family="Liberation Sans, sans-serif" font-weight="bold" font-size="11.5" fill="#000" stroke="#000" stroke-width="0.45">+</text>
<ellipse cx="224.8" cy="692.2" rx="12.6" ry="11.6" fill="#03fa03"/>
<text x="225.4" y="696.7" text-anchor="middle" font-family="Liberation Sans, sans-serif" font-weight="bold" font-size="11.5" fill="#000" stroke="#000" stroke-width="0.45">+</text>
<ellipse cx="255.8" cy="692.7" rx="12.6" ry="11.6" fill="#03fa03"/>
<text x="256.4" y="697.2" text-anchor="middle" font-family="Liberation Sans, sans-serif" font-weight="bold" font-size="11.5" fill="#000" stroke="#000" stroke-width="0.45">+</text>
<ellipse cx="291.7" cy="692.2" rx="12.6" ry="11.6" fill="#03fa03"/>
<text x="292.3" y="696.7" text-anchor="middle" font-family="Liberation Sans, sans-serif" font-weight="bold" font-size="11.5" fill="#000" stroke="#000" stroke-width="0.45">+</text>
<ellipse cx="322.2" cy="691.3" rx="12.6" ry="11.6" fill="#03fa03" stroke="#3a3a3a" stroke-width="0.8"/>
<text x="322.8" y="695.8" text-anchor="middle" font-family="Liberation Sans, sans-serif" font-weight="bold" font-size="11.5" fill="#000" stroke="#000" stroke-width="0.45">+</text>
<ellipse cx="159.9" cy="720.4" rx="12.6" ry="11.6" fill="#03fa03"/>
<text x="160.5" y="724.9" text-anchor="middle" font-family="Liberation Sans, sans-serif" font-weight="bold" font-size="11.5" fill="#000" stroke="#000" stroke-width="0.45">+</text>
<ellipse cx="193.2" cy="719.9" rx="12.6" ry="11.6" fill="#ffff00"/>
<text x="194.3" y="724.8" text-anchor="middle" font-family="Liberation Sans, sans-serif" font-weight="bold" font-size="12" fill="#000" stroke="#000" stroke-width="0.3">?</text>
<ellipse cx="224.8" cy="721.8" rx="12.6" ry="11.6" fill="#03fa03"/>
<text x="225.4" y="726.3" text-anchor="middle" font-family="Liberation Sans, sans-serif" font-weight="bold" font-size="11.5" fill="#000" stroke="#000" stroke-width="0.45">+</text>
<ellipse cx="256.5" cy="721.8" rx="12.6" ry="11.6" fill="#03fa03"/>
<text x="257.1" y="726.3" text-anchor="middle" font-family="Liberation Sans, sans-serif" font-weight="bold" font-size="11.5" fill="#000" stroke="#000" stroke-width="0.45">+</text>
<ellipse cx="290.5" cy="719.9" rx="12.6" ry="11.6" fill="#ffff00"/>
<text x="291.6" y="724.8" text-anchor="middle" font-family="Liberation Sans, sans-serif" font-weight="bold" font-size="12" fill="#000" stroke="#000" stroke-width="0.3">?</text>
<ellipse cx="322.2" cy="719.9" rx="12.6" ry="11.6" fill="#ffff00" stroke="#3a3a3a" stroke-width="0.8"/>
<text x="323.3" y="724.8" text-anchor="middle" font-family="Liberation Sans, sans-serif" font-weight="bold" font-size="12" fill="#000" stroke="#000" stroke-width="0.3">?</text>
<ellipse cx="161.1" cy="751.3" rx="12.6" ry="11.6" fill="#03fa03"/>
<text x="161.7" y="755.8" text-anchor="middle" font-family="Liberation Sans, sans-serif" font-weight="bold" font-size="11.5" fill="#000" stroke="#000" stroke-width="0.45">+</text>
<ellipse cx="192.5" cy="752.8" rx="12.6" ry="11.6" fill="#03fa03"/>
<text x="193.1" y="757.3" text-anchor="middle" font-family="Liberation Sans, sans-serif" font-weight="bold" font-size="11.5" fill="#000" stroke="#000" stroke-width="0.45">+</text>
<ellipse cx="224.8" cy="752.3" rx="12.6" ry="11.6" fill="#03fa03"/>
<text x="225.4" y="756.8" text-anchor="middle" font-family="Liberation Sans, sans-serif" font-weight="bold" font-size="11.5" fill="#000" stroke="#000" stroke-width="0.45">+</text>
<ellipse cx="256.5" cy="751.8" rx="12.6" ry="11.6" fill="#03fa03"/>
<text x="257.1" y="756.3" text-anchor="middle" font-family="Liberation Sans, sans-serif" font-weight="bold" font-size="11.5" fill="#000" stroke="#000" stroke-width="0.45">+</text>
<ellipse cx="289.3" cy="748.5" rx="12.6" ry="11.6" fill="#ffff00"/>
<text x="290.4" y="753.4" text-anchor="middle" font-family="Liberation Sans, sans-serif" font-weight="bold" font-size="12" fill="#000" stroke="#000" stroke-width="0.3">?</text>
<ellipse cx="322.2" cy="751.6" rx="12.6" ry="11.6" fill="#ffff00" stroke="#3a3a3a" stroke-width="0.8"/>
<text x="323.3" y="756.5" text-anchor="middle" font-family="Liberation Sans, sans-serif" font-weight="bold" font-size="12" fill="#000" stroke="#000" stroke-width="0.3">?</text>
<ellipse cx="161.1" cy="781.4" rx="12.6" ry="11.6" fill="#03fa03"/>
<text x="161.7" y="785.9" text-anchor="middle" font-family="Liberation Sans, sans-serif" font-weight="bold" font-size="11.5" fill="#000" stroke="#000" stroke-width="0.45">+</text>
<ellipse cx="191.5" cy="781.4" rx="12.6" ry="11.6" fill="#03fa03"/>
<text x="192.1" y="785.9" text-anchor="middle" font-family="Liberation Sans, sans-serif" font-weight="bold" font-size="11.5" fill="#000" stroke="#000" stroke-width="0.45">+</text>
<ellipse cx="224.4" cy="782.6" rx="12.6" ry="11.6" fill="#03fa03"/>
<text x="225.0" y="787.1" text-anchor="middle" font-family="Liberation Sans, sans-serif" font-weight="bold" font-size="11.5" fill="#000" stroke="#000" stroke-width="0.45">+</text>
<ellipse cx="257.2" cy="780.2" rx="12.6" ry="11.6" fill="#03fa03"/>
<text x="257.8" y="784.7" text-anchor="middle" font-family="Liberation Sans, sans-serif" font-weight="bold" font-size="11.5" fill="#000" stroke="#000" stroke-width="0.45">+</text>
<ellipse cx="291.7" cy="778.8" rx="12.6" ry="11.6" fill="#ffff00"/>
<text x="292.8" y="783.7" text-anchor="middle" font-family="Liberation Sans, sans-serif" font-weight="bold" font-size="12" fill="#000" stroke="#000" stroke-width="0.3">?</text>
<ellipse cx="322.2" cy="781.2" rx="12.6" ry="11.6" fill="#ffff00" stroke="#3a3a3a" stroke-width="0.8"/>
<text x="323.3" y="786.1" text-anchor="middle" font-family="Liberation Sans, sans-serif" font-weight="bold" font-size="12" fill="#000" stroke="#000" stroke-width="0.3">?</text>
<ellipse cx="160.6" cy="809.6" rx="12.6" ry="11.6" fill="#ffff00"/>
<text x="161.7" y="814.5" text-anchor="middle" font-family="Liberation Sans, sans-serif" font-weight="bold" font-size="12" fill="#000" stroke="#000" stroke-width="0.3">?</text>
<ellipse cx="191.5" cy="812.4" rx="12.6" ry="11.6" fill="#03fa03"/>
<text x="192.1" y="816.9" text-anchor="middle" font-family="Liberation Sans, sans-serif" font-weight="bold" font-size="11.5" fill="#000" stroke="#000" stroke-width="0.45">+</text>
<ellipse cx="223.0" cy="810.7" rx="12.6" ry="11.6" fill="#03fa03"/>
<text x="223.6" y="815.2" text-anchor="middle" font-family="Liberation Sans, sans-serif" font-weight="bold" font-size="11.5" fill="#000" stroke="#000" stroke-width="0.45">+</text>
<ellipse cx="257.2" cy="809.3" rx="12.6" ry="11.6" fill="#03fa03"/>
<text x="257.8" y="813.8" text-anchor="middle" font-family="Liberation Sans, sans-serif" font-weight="bold" font-size="11.5" fill="#000" stroke="#000" stroke-width="0.45">+</text>
<ellipse cx="290.5" cy="808.1" rx="12.6" ry="11.6" fill="#ffff00"/>
<text x="291.6" y="813.0" text-anchor="middle" font-family="Liberation Sans, sans-serif" font-weight="bold" font-size="12" fill="#000" stroke="#000" stroke-width="0.3">?</text>
<ellipse cx="322.2" cy="810.0" rx="12.6" ry="11.6" fill="#ffff00" stroke="#3a3a3a" stroke-width="0.8"/>
<text x="323.3" y="814.9" text-anchor="middle" font-family="Liberation Sans, sans-serif" font-weight="bold" font-size="12" fill="#000" stroke="#000" stroke-width="0.3">?</text>
<ellipse cx="159.6" cy="838.2" rx="12.6" ry="11.6" fill="#ffff00"/>
<text x="160.7" y="843.1" text-anchor="middle" font-family="Liberation Sans, sans-serif" font-weight="bold" font-size="12" fill="#000" stroke="#000" stroke-width="0.3">?</text>
<ellipse cx="191.1" cy="839.8" rx="12.6" ry="11.6" fill="#ffff00"/>
<text x="192.2" y="844.7" text-anchor="middle" font-family="Liberation Sans, sans-serif" font-weight="bold" font-size="12" fill="#000" stroke="#000" stroke-width="0.3">?</text>
<ellipse cx="224.1" cy="838.6" rx="12.6" ry="11.6" fill="#ffff00"/>
<text x="225.2" y="843.5" text-anchor="middle" font-family="Liberation Sans, sans-serif" font-weight="bold" font-size="12" fill="#000" stroke="#000" stroke-width="0.3">?</text>
<ellipse cx="254.9" cy="840.5" rx="12.6" ry="11.6" fill="#03fa03"/>
<text x="255.5" y="845.0" text-anchor="middle" font-family="Liberation Sans, sans-serif" font-weight="bold" font-size="11.5" fill="#000" stroke="#000" stroke-width="0.45">+</text>
<ellipse cx="290.5" cy="838.6" rx="12.6" ry="11.6" fill="#ffff00"/>
<text x="291.6" y="843.5" text-anchor="middle" font-family="Liberation Sans, sans-serif" font-weight="bold" font-size="12" fill="#000" stroke="#000" stroke-width="0.3">?</text>
<ellipse cx="322.2" cy="839.3" rx="12.6" ry="11.6" fill="#ffff00" stroke="#3a3a3a" stroke-width="0.8"/>
<text x="323.3" y="844.2" text-anchor="middle" font-family="Liberation Sans, sans-serif" font-weight="bold" font-size="12" fill="#000" stroke="#000" stroke-width="0.3">?</text>
<ellipse cx="158.7" cy="867.9" rx="12.6" ry="11.6" fill="#ffff00"/>
<text x="159.8" y="872.8" text-anchor="middle" font-family="Liberation Sans, sans-serif" font-weight="bold" font-size="12" fill="#000" stroke="#000" stroke-width="0.3">?</text>
<ellipse cx="190.1" cy="872.2" rx="12.6" ry="11.6" fill="#03fa03"/>
<text x="190.7" y="876.7" text-anchor="middle" font-family="Liberation Sans, sans-serif" font-weight="bold" font-size="11.5" fill="#000" stroke="#000" stroke-width="0.45">+</text>
<ellipse cx="223.0" cy="870.3" rx="12.6" ry="11.6" fill="#03fa03"/>
<text x="223.6" y="874.8" text-anchor="middle" font-family="Liberation Sans, sans-serif" font-weight="bold" font-size="11.5" fill="#000" stroke="#000" stroke-width="0.45">+</text>
<ellipse cx="254.2" cy="871.7" rx="12.6" ry="11.6" fill="#03fa03"/>
<text x="254.8" y="876.2" text-anchor="middle" font-family="Liberation Sans, sans-serif" font-weight="bold" font-size="11.5" fill="#000" stroke="#000" stroke-width="0.45">+</text>
<ellipse cx="291.7" cy="869.1" rx="12.6" ry="11.6" fill="#ffff00"/>
<text x="292.8" y="874.0" text-anchor="middle" font-family="Liberation Sans, sans-serif" font-weight="bold" font-size="12" fill="#000" stroke="#000" stroke-width="0.3">?</text>
<ellipse cx="320.5" cy="868.7" rx="12.6" ry="11.6" fill="#ffff00" stroke="#3a3a3a" stroke-width="0.8"/>
<text x="321.6" y="873.6" text-anchor="middle" font-family="Liberation Sans, sans-serif" font-weight="bold" font-size="12" fill="#000" stroke="#000" stroke-width="0.3">?</text>
<ellipse cx="159.2" cy="899.1" rx="12.6" ry="11.6" fill="#03fa03"/>
<text x="159.8" y="903.6" text-anchor="middle" font-family="Liberation Sans, sans-serif" font-weight="bold" font-size="11.5" fill="#000" stroke="#000" stroke-width="0.45">+</text>
<ellipse cx="189.7" cy="899.1" rx="12.6" ry="11.6" fill="#03fa03"/>
<text x="190.3" y="903.6" text-anchor="middle" font-family="Liberation Sans, sans-serif" font-weight="bold" font-size="11.5" fill="#000" stroke="#000" stroke-width="0.45">+</text>
<ellipse cx="223.7" cy="899.1" rx="12.6" ry="11.6" fill="#03fa03"/>
<text x="224.3" y="903.6" text-anchor="middle" font-family="Liberation Sans, sans-serif" font-weight="bold" font-size="11.5" fill="#000" stroke="#000" stroke-width="0.45">+</text>
<ellipse cx="254.9" cy="899.6" rx="12.6" ry="11.6" fill="#03fa03"/>
<text x="255.5" y="904.1" text-anchor="middle" font-family="Liberation Sans, sans-serif" font-weight="bold" font-size="11.5" fill="#000" stroke="#000" stroke-width="0.45">+</text>
<ellipse cx="292.1" cy="898.0" rx="12.6" ry="11.6" fill="#ffff00"/>
<text x="293.2" y="902.9" text-anchor="middle" font-family="Liberation Sans, sans-serif" font-weight="bold" font-size="12" fill="#000" stroke="#000" stroke-width="0.3">?</text>
<ellipse cx="320.5" cy="899.1" rx="12.6" ry="11.6" fill="#ffff00" stroke="#3a3a3a" stroke-width="0.8"/>
<text x="321.6" y="904.0" text-anchor="middle" font-family="Liberation Sans, sans-serif" font-weight="bold" font-size="12" fill="#000" stroke="#000" stroke-width="0.3">?</text>
<ellipse cx="159.9" cy="928.5" rx="12.6" ry="11.6" fill="#03fa03"/>
<text x="160.5" y="933.0" text-anchor="middle" font-family="Liberation Sans, sans-serif" font-weight="bold" font-size="11.5" fill="#000" stroke="#000" stroke-width="0.45">+</text>
<ellipse cx="191.5" cy="928.9" rx="12.6" ry="11.6" fill="#03fa03"/>
<text x="192.1" y="933.4" text-anchor="middle" font-family="Liberation Sans, sans-serif" font-weight="bold" font-size="11.5" fill="#000" stroke="#000" stroke-width="0.45">+</text>
<ellipse cx="223.0" cy="928.9" rx="12.6" ry="11.6" fill="#03fa03"/>
<text x="223.6" y="933.4" text-anchor="middle" font-family="Liberation Sans, sans-serif" font-weight="bold" font-size="11.5" fill="#000" stroke="#000" stroke-width="0.45">+</text>
<ellipse cx="254.2" cy="928.9" rx="12.6" ry="11.6" fill="#03fa03"/>
<text x="254.8" y="933.4" text-anchor="middle" font-family="Liberation Sans, sans-serif" font-weight="bold" font-size="11.5" fill="#000" stroke="#000" stroke-width="0.45">+</text>
<ellipse cx="289.3" cy="928.5" rx="12.6" ry="11.6" fill="#03fa03"/>
<text x="289.9" y="933.0" text-anchor="middle" font-family="Liberation Sans, sans-serif" font-weight="bold" font-size="11.5" fill="#000" stroke="#000" stroke-width="0.45">+</text>
<ellipse cx="321.0" cy="928.0" rx="12.6" ry="11.6" fill="#03fa03" stroke="#3a3a3a" stroke-width="0.8"/>
<text x="321.6" y="932.5" text-anchor="middle" font-family="Liberation Sans, sans-serif" font-weight="bold" font-size="11.5" fill="#000" stroke="#000" stroke-width="0.45">+</text>
<ellipse cx="159.6" cy="955.9" rx="12.6" ry="11.6" fill="#ffff00"/>
<text x="160.7" y="960.8" text-anchor="middle" font-family="Liberation Sans, sans-serif" font-weight="bold" font-size="12" fill="#000" stroke="#000" stroke-width="0.3">?</text>
<ellipse cx="191.1" cy="958.2" rx="12.6" ry="11.6" fill="#03fa03"/>
<text x="191.7" y="962.7" text-anchor="middle" font-family="Liberation Sans, sans-serif" font-weight="bold" font-size="11.5" fill="#000" stroke="#000" stroke-width="0.45">+</text>
<ellipse cx="223.7" cy="958.9" rx="12.6" ry="11.6" fill="#03fa03"/>
<text x="224.3" y="963.4" text-anchor="middle" font-family="Liberation Sans, sans-serif" font-weight="bold" font-size="11.5" fill="#000" stroke="#000" stroke-width="0.45">+</text>
<ellipse cx="255.8" cy="958.2" rx="12.6" ry="11.6" fill="#03fa03"/>
<text x="256.4" y="962.7" text-anchor="middle" font-family="Liberation Sans, sans-serif" font-weight="bold" font-size="11.5" fill="#000" stroke="#000" stroke-width="0.45">+</text>
<ellipse cx="288.6" cy="958.5" rx="12.6" ry="11.6" fill="#03fa03"/>
<text x="289.2" y="963.0" text-anchor="middle" font-family="Liberation Sans, sans-serif" font-weight="bold" font-size="11.5" fill="#000" stroke="#000" stroke-width="0.45">+</text>
<ellipse cx="320.5" cy="957.3" rx="12.6" ry="11.6" fill="#ffff00" stroke="#3a3a3a" stroke-width="0.8"/>
<text x="321.6" y="962.2" text-anchor="middle" font-family="Liberation Sans, sans-serif" font-weight="bold" font-size="12" fill="#000" stroke="#000" stroke-width="0.3">?</text>
<ellipse cx="160.6" cy="988.7" rx="12.6" ry="11.6" fill="#03fa03"/>
<text x="161.2" y="993.2" text-anchor="middle" font-family="Liberation Sans, sans-serif" font-weight="bold" font-size="11.5" fill="#000" stroke="#000" stroke-width="0.45">+</text>
<ellipse cx="192.5" cy="986.6" rx="12.6" ry="11.6" fill="#03fa03"/>
<text x="193.1" y="991.1" text-anchor="middle" font-family="Liberation Sans, sans-serif" font-weight="bold" font-size="11.5" fill="#000" stroke="#000" stroke-width="0.45">+</text>
<ellipse cx="222.5" cy="987.6" rx="12.6" ry="11.6" fill="#03fa03"/>
<text x="223.1" y="992.1" text-anchor="middle" font-family="Liberation Sans, sans-serif" font-weight="bold" font-size="11.5" fill="#000" stroke="#000" stroke-width="0.45">+</text>
<ellipse cx="256.5" cy="987.6" rx="12.6" ry="11.6" fill="#03fa03"/>
<text x="257.1" y="992.1" text-anchor="middle" font-family="Liberation Sans, sans-serif" font-weight="bold" font-size="11.5" fill="#000" stroke="#000" stroke-width="0.45">+</text>
<ellipse cx="287.7" cy="985.4" rx="12.6" ry="11.6" fill="#ffff00"/>
<text x="288.8" y="990.3" text-anchor="middle" font-family="Liberation Sans, sans-serif" font-weight="bold" font-size="12" fill="#000" stroke="#000" stroke-width="0.3">?</text>
<ellipse cx="321.5" cy="988.7" rx="12.6" ry="11.6" fill="#ffff00" stroke="#3a3a3a" stroke-width="0.8"/>
<text x="322.6" y="993.6" text-anchor="middle" font-family="Liberation Sans, sans-serif" font-weight="bold" font-size="12" fill="#000" stroke="#000" stroke-width="0.3">?</text>
<ellipse cx="160.6" cy="1017.1" rx="12.6" ry="11.6" fill="#ffff00"/>
<text x="161.7" y="1022.0" text-anchor="middle" font-family="Liberation Sans, sans-serif" font-weight="bold" font-size="12" fill="#000" stroke="#000" stroke-width="0.3">?</text>
<ellipse cx="193.2" cy="1017.6" rx="12.6" ry="11.6" fill="#ffff00"/>
<text x="194.3" y="1022.5" text-anchor="middle" font-family="Liberation Sans, sans-serif" font-weight="bold" font-size="12" fill="#000" stroke="#000" stroke-width="0.3">?</text>
<ellipse cx="222.5" cy="1017.6" rx="12.6" ry="11.6" fill="#03fa03"/>
<text x="223.1" y="1022.1" text-anchor="middle" font-family="Liberation Sans, sans-serif" font-weight="bold" font-size="11.5" fill="#000" stroke="#000" stroke-width="0.45">+</text>
<ellipse cx="256.5" cy="1016.4" rx="12.6" ry="11.6" fill="#ff0000"/>
<text x="257.6" y="1021.3" text-anchor="middle" font-family="Liberation Sans, sans-serif" font-weight="bold" font-size="12" fill="#000" stroke="#000" stroke-width="0.3">?</text>
<ellipse cx="285.8" cy="1015.2" rx="12.6" ry="11.6" fill="#ffff00"/>
<text x="286.9" y="1020.1" text-anchor="middle" font-family="Liberation Sans, sans-serif" font-weight="bold" font-size="12" fill="#000" stroke="#000" stroke-width="0.3">?</text>
<ellipse cx="321.5" cy="1016.4" rx="12.6" ry="11.6" fill="#ff0000" stroke="#3a3a3a" stroke-width="0.8"/>
<text x="322.6" y="1021.3" text-anchor="middle" font-family="Liberation Sans, sans-serif" font-weight="bold" font-size="12" fill="#000" stroke="#000" stroke-width="0.3">?</text>
<ellipse cx="159.2" cy="1046.9" rx="12.6" ry="11.6" fill="#03fa03"/>
<text x="159.8" y="1051.4" text-anchor="middle" font-family="Liberation Sans, sans-serif" font-weight="bold" font-size="11.5" fill="#000" stroke="#000" stroke-width="0.45">+</text>
<ellipse cx="193.9" cy="1046.9" rx="12.6" ry="11.6" fill="#03fa03"/>
<text x="194.5" y="1051.4" text-anchor="middle" font-family="Liberation Sans, sans-serif" font-weight="bold" font-size="11.5" fill="#000" stroke="#000" stroke-width="0.45">+</text>
<ellipse cx="223.7" cy="1045.7" rx="12.6" ry="11.6" fill="#03fa03"/>
<text x="224.3" y="1050.2" text-anchor="middle" font-family="Liberation Sans, sans-serif" font-weight="bold" font-size="11.5" fill="#000" stroke="#000" stroke-width="0.45">+</text>
<ellipse cx="255.8" cy="1047.4" rx="12.6" ry="11.6" fill="#03fa03"/>
<text x="256.4" y="1051.9" text-anchor="middle" font-family="Liberation Sans, sans-serif" font-weight="bold" font-size="11.5" fill="#000" stroke="#000" stroke-width="0.45">+</text>
<ellipse cx="286.3" cy="1045.7" rx="12.6" ry="11.6" fill="#ffff00"/>
<text x="287.4" y="1050.6" text-anchor="middle" font-family="Liberation Sans, sans-serif" font-weight="bold" font-size="12" fill="#000" stroke="#000" stroke-width="0.3">?</text>
<ellipse cx="321.5" cy="1045.7" rx="12.6" ry="11.6" fill="#ffff00" stroke="#3a3a3a" stroke-width="0.8"/>
<text x="322.6" y="1050.6" text-anchor="middle" font-family="Liberation Sans, sans-serif" font-weight="bold" font-size="12" fill="#000" stroke="#000" stroke-width="0.3">?</text>
<ellipse cx="160.6" cy="1074.7" rx="12.6" ry="11.6" fill="#03fa03"/>
<text x="161.2" y="1079.2" text-anchor="middle" font-family="Liberation Sans, sans-serif" font-weight="bold" font-size="11.5" fill="#000" stroke="#000" stroke-width="0.45">+</text>
<ellipse cx="193.9" cy="1074.9" rx="12.6" ry="11.6" fill="#03fa03"/>
<text x="194.5" y="1079.4" text-anchor="middle" font-family="Liberation Sans, sans-serif" font-weight="bold" font-size="11.5" fill="#000" stroke="#000" stroke-width="0.45">+</text>
<ellipse cx="224.4" cy="1076.1" rx="12.6" ry="11.6" fill="#03fa03"/>
<text x="225.0" y="1080.6" text-anchor="middle" font-family="Liberation Sans, sans-serif" font-weight="bold" font-size="11.5" fill="#000" stroke="#000" stroke-width="0.45">+</text>
<ellipse cx="255.3" cy="1077.3" rx="12.6" ry="11.6" fill="#03fa03"/>
<text x="255.9" y="1081.8" text-anchor="middle" font-family="Liberation Sans, sans-serif" font-weight="bold" font-size="11.5" fill="#000" stroke="#000" stroke-width="0.45">+</text>
<ellipse cx="287.7" cy="1073.1" rx="12.6" ry="11.6" fill="#ffff00"/>
<text x="288.8" y="1078.0" text-anchor="middle" font-family="Liberation Sans, sans-serif" font-weight="bold" font-size="12" fill="#000" stroke="#000" stroke-width="0.3">?</text>
<ellipse cx="322.2" cy="1074.2" rx="12.6" ry="11.6" fill="#ffff00" stroke="#3a3a3a" stroke-width="0.8"/>
<text x="323.3" y="1079.1" text-anchor="middle" font-family="Liberation Sans, sans-serif" font-weight="bold" font-size="12" fill="#000" stroke="#000" stroke-width="0.3">?</text>
<ellipse cx="161.5" cy="1104.7" rx="12.6" ry="11.6" fill="#ffff00"/>
<text x="162.6" y="1109.6" text-anchor="middle" font-family="Liberation Sans, sans-serif" font-weight="bold" font-size="12" fill="#000" stroke="#000" stroke-width="0.3">?</text>
<ellipse cx="193.9" cy="1105.9" rx="12.6" ry="11.6" fill="#03fa03"/>
<text x="194.5" y="1110.4" text-anchor="middle" font-family="Liberation Sans, sans-serif" font-weight="bold" font-size="11.5" fill="#000" stroke="#000" stroke-width="0.45">+</text>
<ellipse cx="224.8" cy="1105.9" rx="12.6" ry="11.6" fill="#03fa03"/>
<text x="225.4" y="1110.4" text-anchor="middle" font-family="Liberation Sans, sans-serif" font-weight="bold" font-size="11.5" fill="#000" stroke="#000" stroke-width="0.45">+</text>
<ellipse cx="255.8" cy="1105.4" rx="12.6" ry="11.6" fill="#03fa03"/>
<text x="256.4" y="1109.9" text-anchor="middle" font-family="Liberation Sans, sans-serif" font-weight="bold" font-size="11.5" fill="#000" stroke="#000" stroke-width="0.45">+</text>
<ellipse cx="288.2" cy="1104.7" rx="12.6" ry="11.6" fill="#03fa03"/>
<text x="288.8" y="1109.2" text-anchor="middle" font-family="Liberation Sans, sans-serif" font-weight="bold" font-size="11.5" fill="#000" stroke="#000" stroke-width="0.45">+</text>
<ellipse cx="321.5" cy="1104.2" rx="12.6" ry="11.6" fill="#ffff00" stroke="#3a3a3a" stroke-width="0.8"/>
<text x="322.6" y="1109.1" text-anchor="middle" font-family="Liberation Sans, sans-serif" font-weight="bold" font-size="12" fill="#000" stroke="#000" stroke-width="0.3">?</text>
<ellipse cx="159.2" cy="1134.7" rx="12.6" ry="11.6" fill="#03fa03"/>
<text x="159.8" y="1139.2" text-anchor="middle" font-family="Liberation Sans, sans-serif" font-weight="bold" font-size="11.5" fill="#000" stroke="#000" stroke-width="0.45">+</text>
<ellipse cx="192.5" cy="1134.7" rx="12.6" ry="11.6" fill="#03fa03"/>
<text x="193.1" y="1139.2" text-anchor="middle" font-family="Liberation Sans, sans-serif" font-weight="bold" font-size="11.5" fill="#000" stroke="#000" stroke-width="0.45">+</text>
<ellipse cx="226.0" cy="1135.2" rx="12.6" ry="11.6" fill="#ffff00"/>
<text x="227.1" y="1140.1" text-anchor="middle" font-family="Liberation Sans, sans-serif" font-weight="bold" font-size="12" fill="#000" stroke="#000" stroke-width="0.3">?</text>
<ellipse cx="254.9" cy="1135.9" rx="12.6" ry="11.6" fill="#03fa03"/>
<text x="255.5" y="1140.4" text-anchor="middle" font-family="Liberation Sans, sans-serif" font-weight="bold" font-size="11.5" fill="#000" stroke="#000" stroke-width="0.45">+</text>
<ellipse cx="289.3" cy="1133.3" rx="12.6" ry="11.6" fill="#ffff00"/>
<text x="290.4" y="1138.2" text-anchor="middle" font-family="Liberation Sans, sans-serif" font-weight="bold" font-size="12" fill="#000" stroke="#000" stroke-width="0.3">?</text>
<ellipse cx="322.9" cy="1135.2" rx="12.6" ry="11.6" fill="#ffff00" stroke="#3a3a3a" stroke-width="0.8"/>
<text x="324.0" y="1140.1" text-anchor="middle" font-family="Liberation Sans, sans-serif" font-weight="bold" font-size="12" fill="#000" stroke="#000" stroke-width="0.3">?</text>
<ellipse cx="160.6" cy="1164.0" rx="12.6" ry="11.6" fill="#ffff00"/>
<text x="161.7" y="1168.9" text-anchor="middle" font-family="Liberation Sans, sans-serif" font-weight="bold" font-size="12" fill="#000" stroke="#000" stroke-width="0.3">?</text>
<ellipse cx="191.5" cy="1163.3" rx="12.6" ry="11.6" fill="#ffff00"/>
<text x="192.6" y="1168.2" text-anchor="middle" font-family="Liberation Sans, sans-serif" font-weight="bold" font-size="12" fill="#000" stroke="#000" stroke-width="0.3">?</text>
<ellipse cx="226.5" cy="1164.5" rx="12.6" ry="11.6" fill="#ffff00"/>
<text x="227.6" y="1169.4" text-anchor="middle" font-family="Liberation Sans, sans-serif" font-weight="bold" font-size="12" fill="#000" stroke="#000" stroke-width="0.3">?</text>
<ellipse cx="254.9" cy="1164.5" rx="12.6" ry="11.6" fill="#03fa03"/>
<text x="255.5" y="1169.0" text-anchor="middle" font-family="Liberation Sans, sans-serif" font-weight="bold" font-size="11.5" fill="#000" stroke="#000" stroke-width="0.45">+</text>
<ellipse cx="289.3" cy="1164.5" rx="12.6" ry="11.6" fill="#03fa03"/>
<text x="289.9" y="1169.0" text-anchor="middle" font-family="Liberation Sans, sans-serif" font-weight="bold" font-size="11.5" fill="#000" stroke="#000" stroke-width="0.45">+</text>
<ellipse cx="321.5" cy="1164.5" rx="12.6" ry="11.6" fill="#ffff00" stroke="#3a3a3a" stroke-width="0.8"/>
<text x="322.6" y="1169.4" text-anchor="middle" font-family="Liberation Sans, sans-serif" font-weight="bold" font-size="12" fill="#000" stroke="#000" stroke-width="0.3">?</text>
<ellipse cx="159.9" cy="1193.8" rx="12.6" ry="11.6" fill="#03fa03"/>
<text x="160.5" y="1198.3" text-anchor="middle" font-family="Liberation Sans, sans-serif" font-weight="bold" font-size="11.5" fill="#000" stroke="#000" stroke-width="0.45">+</text>
<ellipse cx="191.5" cy="1192.0" rx="12.6" ry="11.6" fill="#ffff00"/>
<text x="192.6" y="1196.9" text-anchor="middle" font-family="Liberation Sans, sans-serif" font-weight="bold" font-size="12" fill="#000" stroke="#000" stroke-width="0.3">?</text>
<ellipse cx="226.0" cy="1195.0" rx="12.6" ry="11.6" fill="#ffff00"/>
<text x="227.1" y="1199.9" text-anchor="middle" font-family="Liberation Sans, sans-serif" font-weight="bold" font-size="12" fill="#000" stroke="#000" stroke-width="0.3">?</text>
<ellipse cx="254.9" cy="1194.5" rx="12.6" ry="11.6" fill="#03fa03"/>
<text x="255.5" y="1199.0" text-anchor="middle" font-family="Liberation Sans, sans-serif" font-weight="bold" font-size="11.5" fill="#000" stroke="#000" stroke-width="0.45">+</text>
<ellipse cx="288.6" cy="1195.0" rx="12.6" ry="11.6" fill="#03fa03"/>
<text x="289.2" y="1199.5" text-anchor="middle" font-family="Liberation Sans, sans-serif" font-weight="bold" font-size="11.5" fill="#000" stroke="#000" stroke-width="0.45">+</text>
<ellipse cx="323.3" cy="1194.5" rx="12.6" ry="11.6" fill="#ffff00" stroke="#3a3a3a" stroke-width="0.8"/>
<text x="324.4" y="1199.4" text-anchor="middle" font-family="Liberation Sans, sans-serif" font-weight="bold" font-size="12" fill="#000" stroke="#000" stroke-width="0.3">?</text>
<ellipse cx="159.9" cy="1223.6" rx="12.6" ry="11.6" fill="#03fa03"/>
<text x="160.5" y="1228.1" text-anchor="middle" font-family="Liberation Sans, sans-serif" font-weight="bold" font-size="11.5" fill="#000" stroke="#000" stroke-width="0.45">+</text>
<ellipse cx="192.0" cy="1223.6" rx="12.6" ry="11.6" fill="#03fa03"/>
<text x="192.6" y="1228.1" text-anchor="middle" font-family="Liberation Sans, sans-serif" font-weight="bold" font-size="11.5" fill="#000" stroke="#000" stroke-width="0.45">+</text>
<ellipse cx="223.7" cy="1223.6" rx="12.6" ry="11.6" fill="#03fa03"/>
<text x="224.3" y="1228.1" text-anchor="middle" font-family="Liberation Sans, sans-serif" font-weight="bold" font-size="11.5" fill="#000" stroke="#000" stroke-width="0.45">+</text>
<ellipse cx="254.9" cy="1222.7" rx="12.6" ry="11.6" fill="#03fa03"/>
<text x="255.5" y="1227.2" text-anchor="middle" font-family="Liberation Sans, sans-serif" font-weight="bold" font-size="11.5" fill="#000" stroke="#000" stroke-width="0.45">+</text>
<ellipse cx="289.3" cy="1224.3" rx="12.6" ry="11.6" fill="#03fa03"/>
<text x="289.9" y="1228.8" text-anchor="middle" font-family="Liberation Sans, sans-serif" font-weight="bold" font-size="11.5" fill="#000" stroke="#000" stroke-width="0.45">+</text>
<ellipse cx="322.9" cy="1223.6" rx="12.6" ry="11.6" fill="#03fa03" stroke="#3a3a3a" stroke-width="0.8"/>
<text x="323.5" y="1228.1" text-anchor="middle" font-family="Liberation Sans, sans-serif" font-weight="bold" font-size="11.5" fill="#000" stroke="#000" stroke-width="0.45">+</text>
<ellipse cx="160.6" cy="1251.3" rx="12.6" ry="11.6" fill="#ffff00"/>
<text x="161.7" y="1256.2" text-anchor="middle" font-family="Liberation Sans, sans-serif" font-weight="bold" font-size="12" fill="#000" stroke="#000" stroke-width="0.3">?</text>
<ellipse cx="192.0" cy="1253.2" rx="12.6" ry="11.6" fill="#03fa03"/>
<text x="192.6" y="1257.7" text-anchor="middle" font-family="Liberation Sans, sans-serif" font-weight="bold" font-size="11.5" fill="#000" stroke="#000" stroke-width="0.45">+</text>
<ellipse cx="223.7" cy="1252.9" rx="12.6" ry="11.6" fill="#03fa03"/>
<text x="224.3" y="1257.4" text-anchor="middle" font-family="Liberation Sans, sans-serif" font-weight="bold" font-size="11.5" fill="#000" stroke="#000" stroke-width="0.45">+</text>
<ellipse cx="253.5" cy="1251.8" rx="12.6" ry="11.6" fill="#03fa03"/>
<text x="254.1" y="1256.3" text-anchor="middle" font-family="Liberation Sans, sans-serif" font-weight="bold" font-size="11.5" fill="#000" stroke="#000" stroke-width="0.45">+</text>
<ellipse cx="288.2" cy="1252.9" rx="12.6" ry="11.6" fill="#03fa03"/>
<text x="288.8" y="1257.4" text-anchor="middle" font-family="Liberation Sans, sans-serif" font-weight="bold" font-size="11.5" fill="#000" stroke="#000" stroke-width="0.45">+</text>
<ellipse cx="322.2" cy="1253.2" rx="12.6" ry="11.6" fill="#ffff00" stroke="#3a3a3a" stroke-width="0.8"/>
<text x="323.3" y="1258.1" text-anchor="middle" font-family="Liberation Sans, sans-serif" font-weight="bold" font-size="12" fill="#000" stroke="#000" stroke-width="0.3">?</text>
<ellipse cx="158.2" cy="1281.3" rx="12.6" ry="11.6" fill="#03fa03"/>
<text x="158.8" y="1285.8" text-anchor="middle" font-family="Liberation Sans, sans-serif" font-weight="bold" font-size="11.5" fill="#000" stroke="#000" stroke-width="0.45">+</text>
<ellipse cx="191.5" cy="1284.6" rx="12.6" ry="11.6" fill="#03fa03"/>
<text x="192.1" y="1289.1" text-anchor="middle" font-family="Liberation Sans, sans-serif" font-weight="bold" font-size="11.5" fill="#000" stroke="#000" stroke-width="0.45">+</text>
<ellipse cx="224.8" cy="1282.9" rx="12.6" ry="11.6" fill="#03fa03"/>
<text x="225.4" y="1287.4" text-anchor="middle" font-family="Liberation Sans, sans-serif" font-weight="bold" font-size="11.5" fill="#000" stroke="#000" stroke-width="0.45">+</text>
<ellipse cx="255.3" cy="1281.3" rx="12.6" ry="11.6" fill="#ff0000"/>
<text x="256.4" y="1286.2" text-anchor="middle" font-family="Liberation Sans, sans-serif" font-weight="bold" font-size="12" fill="#000" stroke="#000" stroke-width="0.3">?</text>
<ellipse cx="289.3" cy="1281.3" rx="12.6" ry="11.6" fill="#ffff00"/>
<text x="290.4" y="1286.2" text-anchor="middle" font-family="Liberation Sans, sans-serif" font-weight="bold" font-size="12" fill="#000" stroke="#000" stroke-width="0.3">?</text>
<ellipse cx="322.2" cy="1282.2" rx="12.6" ry="11.6" fill="#ff0000" stroke="#3a3a3a" stroke-width="0.8"/>
<text x="323.3" y="1287.1" text-anchor="middle" font-family="Liberation Sans, sans-serif" font-weight="bold" font-size="12" fill="#000" stroke="#000" stroke-width="0.3">?</text>
<ellipse cx="159.9" cy="1311.8" rx="12.6" ry="11.6" fill="#03fa03"/>
<text x="160.5" y="1316.3" text-anchor="middle" font-family="Liberation Sans, sans-serif" font-weight="bold" font-size="11.5" fill="#000" stroke="#000" stroke-width="0.45">+</text>
<ellipse cx="190.1" cy="1312.3" rx="12.6" ry="11.6" fill="#03fa03"/>
<text x="190.7" y="1316.8" text-anchor="middle" font-family="Liberation Sans, sans-serif" font-weight="bold" font-size="11.5" fill="#000" stroke="#000" stroke-width="0.45">+</text>
<ellipse cx="224.1" cy="1313.4" rx="12.6" ry="11.6" fill="#03fa03"/>
<text x="224.7" y="1317.9" text-anchor="middle" font-family="Liberation Sans, sans-serif" font-weight="bold" font-size="11.5" fill="#000" stroke="#000" stroke-width="0.45">+</text>
<ellipse cx="255.3" cy="1311.8" rx="12.6" ry="11.6" fill="#03fa03"/>
<text x="255.9" y="1316.3" text-anchor="middle" font-family="Liberation Sans, sans-serif" font-weight="bold" font-size="11.5" fill="#000" stroke="#000" stroke-width="0.45">+</text>
<ellipse cx="289.3" cy="1311.8" rx="12.6" ry="11.6" fill="#03fa03"/>
<text x="289.9" y="1316.3" text-anchor="middle" font-family="Liberation Sans, sans-serif" font-weight="bold" font-size="11.5" fill="#000" stroke="#000" stroke-width="0.45">+</text>
<ellipse cx="324.0" cy="1311.1" rx="12.6" ry="11.6" fill="#03fa03" stroke="#3a3a3a" stroke-width="0.8"/>
<text x="324.6" y="1315.6" text-anchor="middle" font-family="Liberation Sans, sans-serif" font-weight="bold" font-size="11.5" fill="#000" stroke="#000" stroke-width="0.45">+</text>
<ellipse cx="161.1" cy="1339.2" rx="12.6" ry="11.6" fill="#ffff00"/>
<text x="162.2" y="1344.1" text-anchor="middle" font-family="Liberation Sans, sans-serif" font-weight="bold" font-size="12" fill="#000" stroke="#000" stroke-width="0.3">?</text>
<ellipse cx="190.1" cy="1342.8" rx="12.6" ry="11.6" fill="#03fa03"/>
<text x="190.7" y="1347.3" text-anchor="middle" font-family="Liberation Sans, sans-serif" font-weight="bold" font-size="11.5" fill="#000" stroke="#000" stroke-width="0.45">+</text>
<ellipse cx="224.1" cy="1343.2" rx="12.6" ry="11.6" fill="#03fa03"/>
<text x="224.7" y="1347.7" text-anchor="middle" font-family="Liberation Sans, sans-serif" font-weight="bold" font-size="11.5" fill="#000" stroke="#000" stroke-width="0.45">+</text>
<ellipse cx="254.2" cy="1340.9" rx="12.6" ry="11.6" fill="#03fa03"/>
<text x="254.8" y="1345.4" text-anchor="middle" font-family="Liberation Sans, sans-serif" font-weight="bold" font-size="11.5" fill="#000" stroke="#000" stroke-width="0.45">+</text>
<ellipse cx="289.3" cy="1340.9" rx="12.6" ry="11.6" fill="#03fa03"/>
<text x="289.9" y="1345.4" text-anchor="middle" font-family="Liberation Sans, sans-serif" font-weight="bold" font-size="11.5" fill="#000" stroke="#000" stroke-width="0.45">+</text>
<ellipse cx="322.2" cy="1338.1" rx="12.6" ry="11.6" fill="#ffff00" stroke="#3a3a3a" stroke-width="0.8"/>
<text x="323.3" y="1343.0" text-anchor="middle" font-family="Liberation Sans, sans-serif" font-weight="bold" font-size="12" fill="#000" stroke="#000" stroke-width="0.3">?</text>
<ellipse cx="161.4" cy="1370.9" rx="12.6" ry="11.6" fill="#03fa03"/>
<text x="162.0" y="1375.4" text-anchor="middle" font-family="Liberation Sans, sans-serif" font-weight="bold" font-size="11.5" fill="#000" stroke="#000" stroke-width="0.45">+</text>
<ellipse cx="190.4" cy="1371.8" rx="12.6" ry="11.6" fill="#03fa03"/>
<text x="191.0" y="1376.3" text-anchor="middle" font-family="Liberation Sans, sans-serif" font-weight="bold" font-size="11.5" fill="#000" stroke="#000" stroke-width="0.45">+</text>
<ellipse cx="222.7" cy="1372.5" rx="12.6" ry="11.6" fill="#03fa03"/>
<text x="223.3" y="1377.0" text-anchor="middle" font-family="Liberation Sans, sans-serif" font-weight="bold" font-size="11.5" fill="#000" stroke="#000" stroke-width="0.45">+</text>
<ellipse cx="254.5" cy="1371.8" rx="12.6" ry="11.6" fill="#03fa03"/>
<text x="255.1" y="1376.3" text-anchor="middle" font-family="Liberation Sans, sans-serif" font-weight="bold" font-size="11.5" fill="#000" stroke="#000" stroke-width="0.45">+</text>
<ellipse cx="287.4" cy="1371.8" rx="12.6" ry="11.6" fill="#03fa03"/>
<text x="288.0" y="1376.3" text-anchor="middle" font-family="Liberation Sans, sans-serif" font-weight="bold" font-size="11.5" fill="#000" stroke="#000" stroke-width="0.45">+</text>
<ellipse cx="324.3" cy="1369.7" rx="12.6" ry="11.6" fill="#03fa03" stroke="#3a3a3a" stroke-width="0.8"/>
<text x="324.9" y="1374.2" text-anchor="middle" font-family="Liberation Sans, sans-serif" font-weight="bold" font-size="11.5" fill="#000" stroke="#000" stroke-width="0.45">+</text>
<ellipse cx="161.4" cy="1398.4" rx="12.6" ry="11.6" fill="#ffff00"/>
<text x="162.5" y="1403.3" text-anchor="middle" font-family="Liberation Sans, sans-serif" font-weight="bold" font-size="12" fill="#000" stroke="#000" stroke-width="0.3">?</text>
<ellipse cx="190.4" cy="1403.1" rx="12.6" ry="11.6" fill="#03fa03"/>
<text x="191.0" y="1407.6" text-anchor="middle" font-family="Liberation Sans, sans-serif" font-weight="bold" font-size="11.5" fill="#000" stroke="#000" stroke-width="0.45">+</text>
<ellipse cx="223.3" cy="1401.6" rx="12.6" ry="11.6" fill="#03fa03"/>
<text x="223.9" y="1406.1" text-anchor="middle" font-family="Liberation Sans, sans-serif" font-weight="bold" font-size="11.5" fill="#000" stroke="#000" stroke-width="0.45">+</text>
<ellipse cx="254.5" cy="1402.5" rx="12.6" ry="11.6" fill="#03fa03"/>
<text x="255.1" y="1407.0" text-anchor="middle" font-family="Liberation Sans, sans-serif" font-weight="bold" font-size="11.5" fill="#000" stroke="#000" stroke-width="0.45">+</text>
<ellipse cx="289.3" cy="1400.0" rx="12.6" ry="11.6" fill="#ffff00"/>
<text x="290.4" y="1404.9" text-anchor="middle" font-family="Liberation Sans, sans-serif" font-weight="bold" font-size="12" fill="#000" stroke="#000" stroke-width="0.3">?</text>
<ellipse cx="324.3" cy="1401.6" rx="12.6" ry="11.6" fill="#ffff00" stroke="#3a3a3a" stroke-width="0.8"/>
<text x="325.4" y="1406.5" text-anchor="middle" font-family="Liberation Sans, sans-serif" font-weight="bold" font-size="12" fill="#000" stroke="#000" stroke-width="0.3">?</text>
<g stroke="#141414" stroke-width="1.6" fill="none">
<line x1="5.2" y1="176.6" x2="5.2" y2="1416.3"/>
<line x1="34.6" y1="176.6" x2="34.6" y2="1416.3"/>
<line x1="144.0" y1="176.6" x2="144.0" y2="1416.3"/>
<line x1="176.4" y1="176.6" x2="176.4" y2="1416.3"/>
<line x1="208.5" y1="176.6" x2="208.5" y2="1416.3"/>
<line x1="239.2" y1="176.6" x2="239.2" y2="1416.3"/>
<line x1="273.5" y1="176.6" x2="273.5" y2="1416.3"/>
<line x1="305.6" y1="176.6" x2="305.6" y2="1416.3"/>
<line x1="340.8" y1="176.6" x2="340.8" y2="1416.3"/>
<line x1="4.4" y1="176.60" x2="341.6" y2="176.60"/>
<line x1="4.4" y1="206.12" x2="341.6" y2="206.12"/>
<line x1="4.4" y1="235.63" x2="341.6" y2="235.63"/>
<line x1="4.4" y1="265.15" x2="341.6" y2="265.15"/>
<line x1="4.4" y1="294.67" x2="341.6" y2="294.67"/>
<line x1="4.4" y1="324.18" x2="341.6" y2="324.18"/>
<line x1="4.4" y1="353.70" x2="341.6" y2="353.70"/>
<line x1="4.4" y1="383.22" x2="341.6" y2="383.22"/>
<line x1="4.4" y1="412.73" x2="341.6" y2="412.73"/>
<line x1="4.4" y1="442.25" x2="341.6" y2="442.25"/>
<line x1="4.4" y1="471.77" x2="341.6" y2="471.77"/>
<line x1="4.4" y1="501.28" x2="341.6" y2="501.28"/>
<line x1="4.4" y1="530.80" x2="341.6" y2="530.80"/>
<line x1="4.4" y1="560.32" x2="341.6" y2="560.32"/>
<line x1="4.4" y1="589.83" x2="341.6" y2="589.83"/>
<line x1="4.4" y1="619.35" x2="341.6" y2="619.35"/>
<line x1="4.4" y1="648.87" x2="341.6" y2="648.87"/>
<line x1="4.4" y1="678.38" x2="341.6" y2="678.38"/>
<line x1="4.4" y1="707.90" x2="341.6" y2="707.90"/>
<line x1="4.4" y1="737.42" x2="341.6" y2="737.42"/>
<line x1="4.4" y1="766.93" x2="341.6" y2="766.93"/>
<line x1="4.4" y1="796.45" x2="341.6" y2="796.45"/>
<line x1="4.4" y1="825.97" x2="341.6" y2="825.97"/>
<line x1="4.4" y1="855.48" x2="341.6" y2="855.48"/>
<line x1="4.4" y1="885.00" x2="341.6" y2="885.00"/>
<line x1="4.4" y1="914.52" x2="341.6" y2="914.52"/>
<line x1="4.4" y1="944.03" x2="341.6" y2="944.03"/>
<line x1="4.4" y1="973.55" x2="341.6" y2="973.55"/>
<line x1="4.4" y1="1003.07" x2="341.6" y2="1003.07"/>
<line x1="4.4" y1="1032.58" x2="341.6" y2="1032.58"/>
<line x1="4.4" y1="1062.10" x2="341.6" y2="1062.10"/>
<line x1="4.4" y1="1091.62" x2="341.6" y2="1091.62"/>
<line x1="4.4" y1="1121.13" x2="341.6" y2="1121.13"/>
<line x1="4.4" y1="1150.65" x2="341.6" y2="1150.65"/>
<line x1="4.4" y1="1180.17" x2="341.6" y2="1180.17"/>
<line x1="4.4" y1="1209.68" x2="341.6" y2="1209.68"/>
<line x1="4.4" y1="1239.20" x2="341.6" y2="1239.20"/>
<line x1="4.4" y1="1268.72" x2="341.6" y2="1268.72"/>
<line x1="4.4" y1="1298.23" x2="341.6" y2="1298.23"/>
<line x1="4.4" y1="1327.75" x2="341.6" y2="1327.75"/>
<line x1="4.4" y1="1357.27" x2="341.6" y2="1357.27"/>
<line x1="4.4" y1="1386.78" x2="341.6" y2="1386.78"/>
<line x1="4.4" y1="1416.30" x2="341.6" y2="1416.30"/>
</g>
<ellipse cx="368.0" cy="189.9" rx="12.6" ry="11.6" fill="#03fa03"/>
<text x="368.6" y="194.4" text-anchor="middle" font-family="Liberation Sans, sans-serif" font-weight="bold" font-size="11.5" fill="#000" stroke="#000" stroke-width="0.45">+</text>
<ellipse cx="368.0" cy="219.5" rx="12.6" ry="11.6" fill="#ffff00"/>
<text x="369.1" y="224.4" text-anchor="middle" font-family="Liberation Sans, sans-serif" font-weight="bold" font-size="12" fill="#000" stroke="#000" stroke-width="0.3">?</text>
<ellipse cx="368.0" cy="248.9" rx="12.6" ry="11.6" fill="#ff0000"/>
<text x="369.1" y="253.8" text-anchor="middle" font-family="Liberation Sans, sans-serif" font-weight="bold" font-size="12" fill="#000" stroke="#000" stroke-width="0.3">?</text>
<g font-family="Liberation Serif, serif" fill="#0a0a0a" stroke="#0a0a0a" stroke-width="0.16" font-size="12.3" transform="scale(1.1057,1)"><text x="362.40" y="196.8">Low risk</text><text x="362.40" y="217.9">Some</text><text x="362.40" y="234.9">concerns</text><text x="362.40" y="256.0">High risk</text></g>
<g font-family="Liberation Serif, serif" font-weight="bold" font-size="33.6" fill="#000" text-anchor="middle" letter-spacing="0.7"><text x="174.9" y="1456">(A)</text><text x="1042.9" y="1456">(B)</text></g>
<line x1="699.7" y1="899.5" x2="699.7" y2="1308" stroke="#d9d9d9" stroke-width="1.2"/>
<rect x="700.0" y="920.0" width="213.7" height="27.2" fill="#92d050"/>
<rect x="913.7" y="920.0" width="505.1" height="27.2" fill="#ffff00"/>
<rect x="1418.9" y="920.0" width="97.1" height="27.2" fill="#ff0000"/>
<text x="594.2" y="938.9" textLength="87.6" lengthAdjust="spacingAndGlyphs" font-family="Liberation Sans, sans-serif" font-size="16.4" fill="#666666">Overall Bias</text>
<rect x="700.0" y="988.1" width="408.0" height="27.2" fill="#92d050"/>
<rect x="1108.0" y="988.1" width="408.0" height="27.2" fill="#ffff00"/>
<text x="447.3" y="1007.0" textLength="234.5" lengthAdjust="spacingAndGlyphs" font-family="Liberation Sans, sans-serif" font-size="16.4" fill="#666666">Selection of the reported result</text>
<rect x="700.0" y="1056.3" width="738.3" height="27.2" fill="#92d050"/>
<rect x="1438.3" y="1056.3" width="77.7" height="27.2" fill="#ff0000"/>
<text x="457.0" y="1075.2" textLength="224.8" lengthAdjust="spacingAndGlyphs" font-family="Liberation Sans, sans-serif" font-size="16.4" fill="#666666">Measurement of the outcome</text>
<rect x="700.0" y="1124.5" width="718.9" height="27.2" fill="#92d050"/>
<rect x="1418.9" y="1124.5" width="77.7" height="27.2" fill="#ffff00"/>
<rect x="1496.6" y="1124.5" width="19.4" height="27.2" fill="#ff0000"/>
<text x="523.9" y="1143.4" textLength="157.9" lengthAdjust="spacingAndGlyphs" font-family="Liberation Sans, sans-serif" font-size="16.4" fill="#666666">Mising outcome data</text>
<rect x="700.0" y="1192.6" width="641.1" height="27.2" fill="#92d050"/>
<rect x="1341.1" y="1192.6" width="174.9" height="27.2" fill="#ffff00"/>
<text x="387.0" y="1211.5" textLength="294.8" lengthAdjust="spacingAndGlyphs" font-family="Liberation Sans, sans-serif" font-size="16.4" fill="#666666">Deviations from intended interventions</text>
<rect x="700.0" y="1260.8" width="524.6" height="27.2" fill="#92d050"/>
<rect x="1224.6" y="1260.8" width="291.4" height="27.2" fill="#ffff00"/>
<text x="509.0" y="1279.7" textLength="172.8" lengthAdjust="spacingAndGlyphs" font-family="Liberation Sans, sans-serif" font-size="16.4" fill="#666666">Randomization process</text>
<text x="700.0" y="1337.7" text-anchor="middle" font-family="Liberation Sans, sans-serif" font-size="15.8" fill="#666666">0</text>
<text x="781.6" y="1337.7" text-anchor="middle" font-family="Liberation Sans, sans-serif" font-size="15.8" fill="#666666">10</text>
<text x="863.2" y="1337.7" text-anchor="middle" font-family="Liberation Sans, sans-serif" font-size="15.8" fill="#666666">20</text>
<text x="944.8" y="1337.7" text-anchor="middle" font-family="Liberation Sans, sans-serif" font-size="15.8" fill="#666666">30</text>
<text x="1026.4" y="1337.7" text-anchor="middle" font-family="Liberation Sans, sans-serif" font-size="15.8" fill="#666666">40</text>
<text x="1108.0" y="1337.7" text-anchor="middle" font-family="Liberation Sans, sans-serif" font-size="15.8" fill="#666666">50</text>
<text x="1189.6" y="1337.7" text-anchor="middle" font-family="Liberation Sans, sans-serif" font-size="15.8" fill="#666666">60</text>
<text x="1271.2" y="1337.7" text-anchor="middle" font-family="Liberation Sans, sans-serif" font-size="15.8" fill="#666666">70</text>
<text x="1352.8" y="1337.7" text-anchor="middle" font-family="Liberation Sans, sans-serif" font-size="15.8" fill="#666666">80</text>
<text x="1434.4" y="1337.7" text-anchor="middle" font-family="Liberation Sans, sans-serif" font-size="15.8" fill="#666666">90</text>
<text x="1516.0" y="1337.7" text-anchor="middle" font-family="Liberation Sans, sans-serif" font-size="15.8" fill="#666666">100</text>
<text x="765.8" y="866.5" textLength="396" lengthAdjust="spacingAndGlyphs" font-family="Liberation Sans, sans-serif" font-size="26.4" fill="#666666">As percentage (intention-to-treat)</text>
<rect x="804.1" y="1368.3" width="10.2" height="10.3" fill="#92d050"/><text x="819.8" y="1379.1" textLength="59.4" lengthAdjust="spacingAndGlyphs" font-family="Liberation Sans, sans-serif" font-size="16.4" fill="#666666">Low risk</text>
<rect x="900.0" y="1368.3" width="10.2" height="10.3" fill="#ffff00"/><text x="915.4" y="1379.1" textLength="113.6" lengthAdjust="spacingAndGlyphs" font-family="Liberation Sans, sans-serif" font-size="16.4" fill="#666666">Some concerns</text>
<rect x="1049.8" y="1368.3" width="10.2" height="10.3" fill="#ff0000"/><text x="1064.8" y="1379.1" textLength="63.8" lengthAdjust="spacingAndGlyphs" font-family="Liberation Sans, sans-serif" font-size="16.4" fill="#666666">High risk</text>
</svg>
</body></html>
